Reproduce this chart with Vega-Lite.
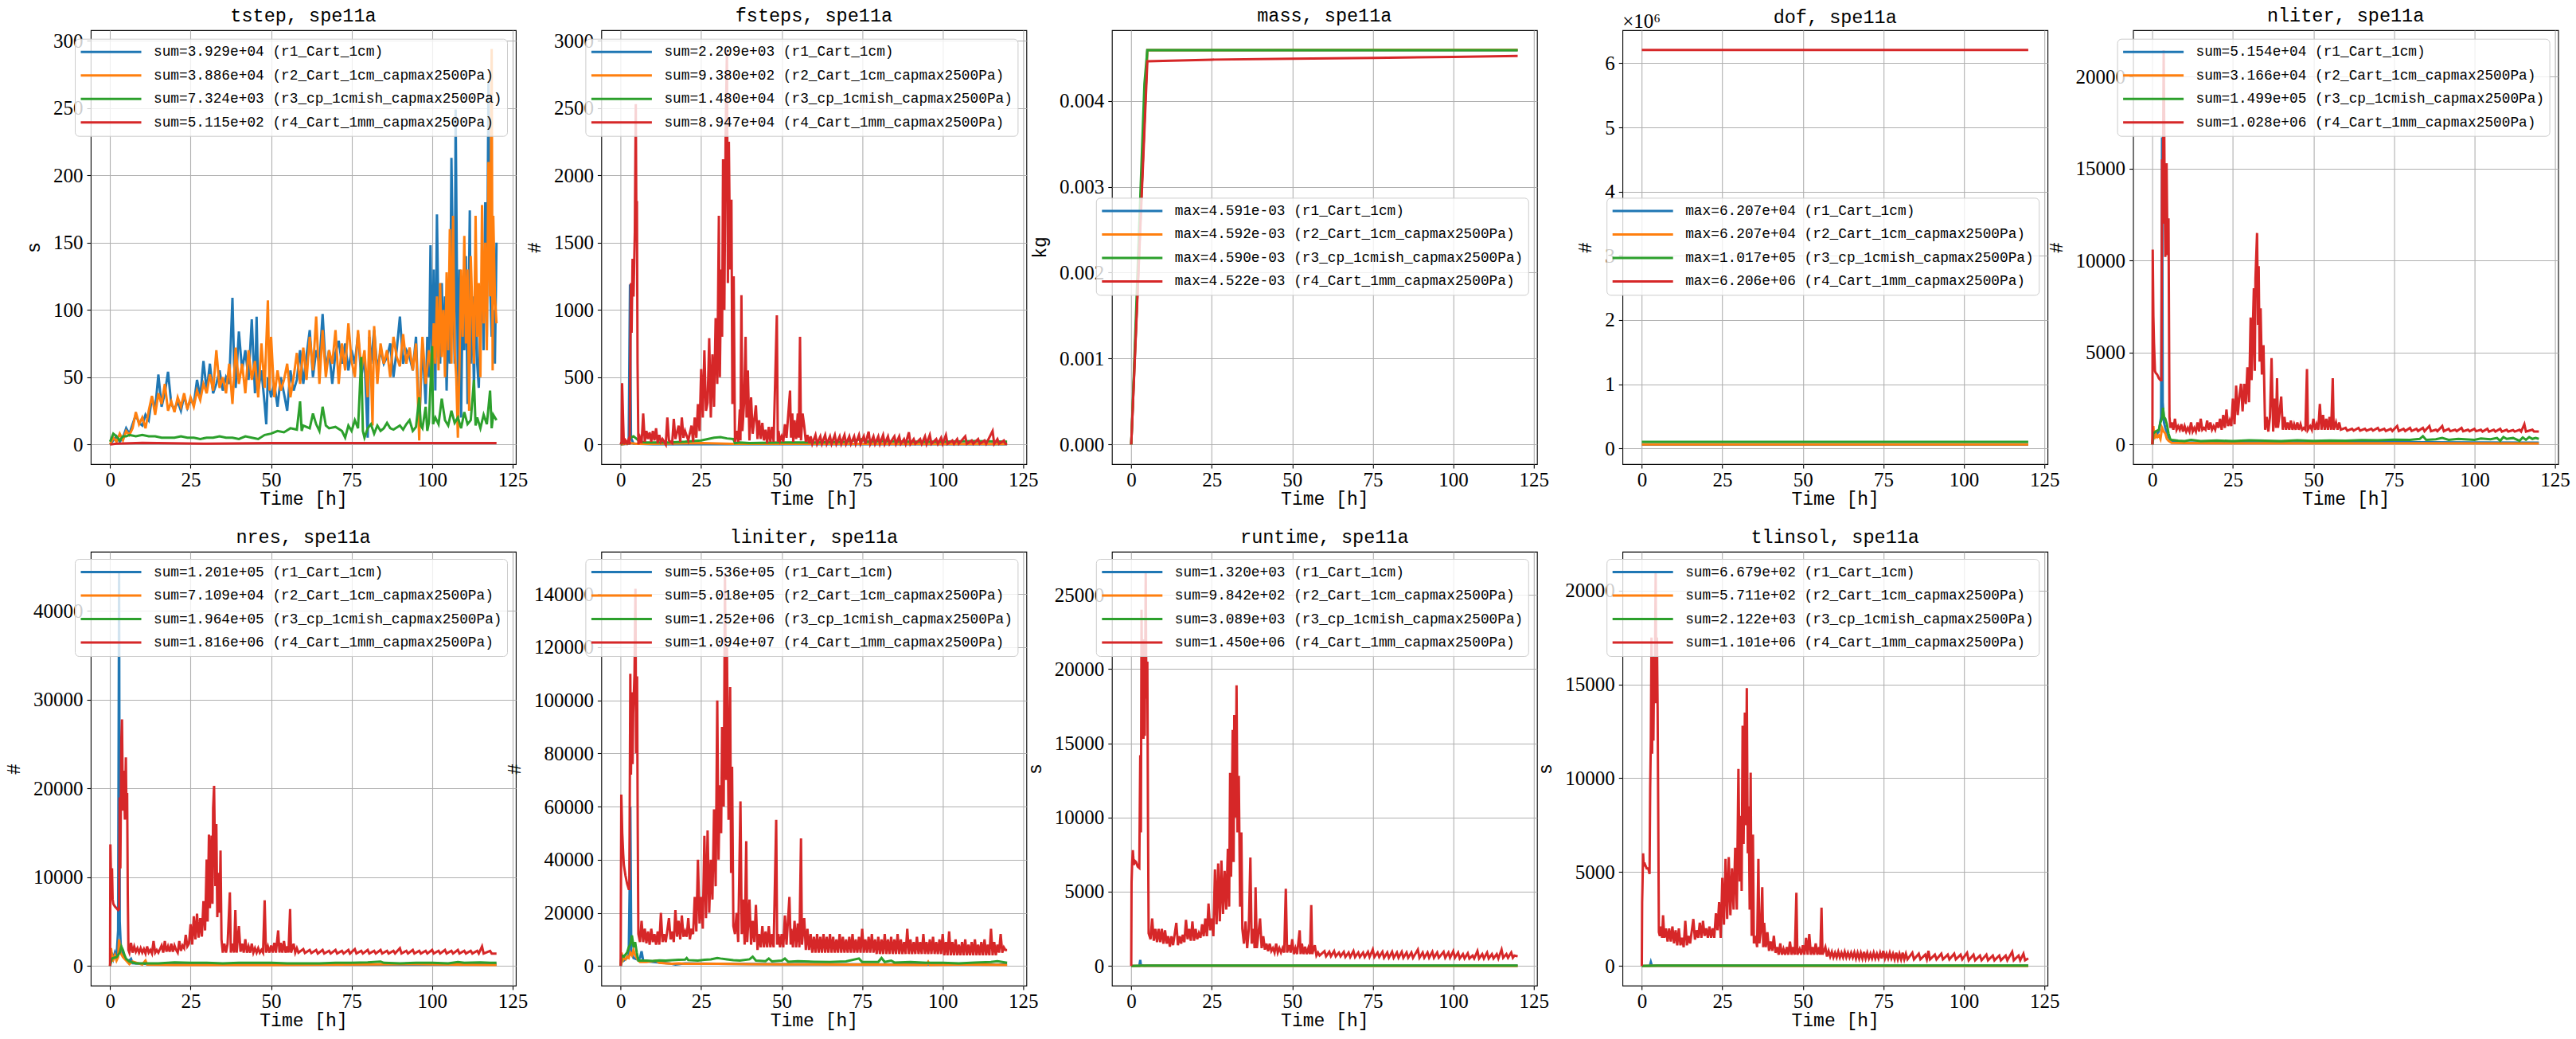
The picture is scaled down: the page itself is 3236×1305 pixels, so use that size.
{
"$schema":"https://vega.github.io/schema/vega-lite/v6.json",
"background":"white",
"padding":{"left":5,"top":6,"right":5,"bottom":5},
"datasets":{
"labels":[
{"k":11,"lab":"sum=3.929e+04 (r1_Cart_1cm)"},{"k":12,"lab":"sum=3.886e+04 (r2_Cart_1cm_capmax2500Pa)"},{"k":13,"lab":"sum=7.324e+03 (r3_cp_1cmish_capmax2500Pa)"},{"k":14,"lab":"sum=5.115e+02 (r4_Cart_1mm_capmax2500Pa)"},
{"k":21,"lab":"sum=2.209e+03 (r1_Cart_1cm)"},{"k":22,"lab":"sum=9.380e+02 (r2_Cart_1cm_capmax2500Pa)"},{"k":23,"lab":"sum=1.480e+04 (r3_cp_1cmish_capmax2500Pa)"},{"k":24,"lab":"sum=8.947e+04 (r4_Cart_1mm_capmax2500Pa)"},
{"k":31,"lab":"max=4.591e-03 (r1_Cart_1cm)"},{"k":32,"lab":"max=4.592e-03 (r2_Cart_1cm_capmax2500Pa)"},{"k":33,"lab":"max=4.590e-03 (r3_cp_1cmish_capmax2500Pa)"},{"k":34,"lab":"max=4.522e-03 (r4_Cart_1mm_capmax2500Pa)"},
{"k":41,"lab":"max=6.207e+04 (r1_Cart_1cm)"},{"k":42,"lab":"max=6.207e+04 (r2_Cart_1cm_capmax2500Pa)"},{"k":43,"lab":"max=1.017e+05 (r3_cp_1cmish_capmax2500Pa)"},{"k":44,"lab":"max=6.206e+06 (r4_Cart_1mm_capmax2500Pa)"},
{"k":51,"lab":"sum=5.154e+04 (r1_Cart_1cm)"},{"k":52,"lab":"sum=3.166e+04 (r2_Cart_1cm_capmax2500Pa)"},{"k":53,"lab":"sum=1.499e+05 (r3_cp_1cmish_capmax2500Pa)"},{"k":54,"lab":"sum=1.028e+06 (r4_Cart_1mm_capmax2500Pa)"},
{"k":61,"lab":"sum=1.201e+05 (r1_Cart_1cm)"},{"k":62,"lab":"sum=7.109e+04 (r2_Cart_1cm_capmax2500Pa)"},{"k":63,"lab":"sum=1.964e+05 (r3_cp_1cmish_capmax2500Pa)"},{"k":64,"lab":"sum=1.816e+06 (r4_Cart_1mm_capmax2500Pa)"},
{"k":71,"lab":"sum=5.536e+05 (r1_Cart_1cm)"},{"k":72,"lab":"sum=5.018e+05 (r2_Cart_1cm_capmax2500Pa)"},{"k":73,"lab":"sum=1.252e+06 (r3_cp_1cmish_capmax2500Pa)"},{"k":74,"lab":"sum=1.094e+07 (r4_Cart_1mm_capmax2500Pa)"},
{"k":81,"lab":"sum=1.320e+03 (r1_Cart_1cm)"},{"k":82,"lab":"sum=9.842e+02 (r2_Cart_1cm_capmax2500Pa)"},{"k":83,"lab":"sum=3.089e+03 (r3_cp_1cmish_capmax2500Pa)"},{"k":84,"lab":"sum=1.450e+06 (r4_Cart_1mm_capmax2500Pa)"},
{"k":91,"lab":"sum=6.679e+02 (r1_Cart_1cm)"},{"k":92,"lab":"sum=5.711e+02 (r2_Cart_1cm_capmax2500Pa)"},{"k":93,"lab":"sum=2.122e+03 (r3_cp_1cmish_capmax2500Pa)"},{"k":94,"lab":"sum=1.101e+06 (r4_Cart_1mm_capmax2500Pa)"}
],
"tstep":[
{"k":11,"t":0,"v":0},{"k":11,"t":1,"v":3},{"k":11,"t":2,"v":6},{"k":11,"t":3,"v":2},{"k":11,"t":4,"v":5},{"k":11,"t":5,"v":12},{"k":11,"t":6,"v":8},{"k":11,"t":7,"v":15},{"k":11,"t":8,"v":22},{"k":11,"t":9,"v":16},{"k":11,"t":10,"v":14},{"k":11,"t":11,"v":22},{"k":11,"t":12,"v":18},{"k":11,"t":13,"v":35},{"k":11,"t":14,"v":26},{"k":11,"t":15,"v":52},{"k":11,"t":16,"v":28},{"k":11,"t":17,"v":38},{"k":11,"t":18,"v":54},{"k":11,"t":19,"v":30},{"k":11,"t":20,"v":26},{"k":11,"t":21,"v":32},{"k":11,"t":22,"v":25},{"k":11,"t":23,"v":36},{"k":11,"t":24,"v":27},{"k":11,"t":25,"v":33},{"k":11,"t":26,"v":30},{"k":11,"t":27,"v":48},{"k":11,"t":28,"v":35},{"k":11,"t":29,"v":62},{"k":11,"t":30,"v":40},{"k":11,"t":31,"v":60},{"k":11,"t":32,"v":38},{"k":11,"t":33,"v":45},{"k":11,"t":34,"v":55},{"k":11,"t":35,"v":40},{"k":11,"t":36,"v":50},{"k":11,"t":37,"v":45},{"k":11,"t":38,"v":109},{"k":11,"t":38.5,"v":60},{"k":11,"t":39,"v":42},{"k":11,"t":40,"v":84},{"k":11,"t":41,"v":55},{"k":11,"t":42,"v":70},{"k":11,"t":43,"v":48},{"k":11,"t":44,"v":93},{"k":11,"t":45,"v":38},{"k":11,"t":45.5,"v":95},{"k":11,"t":46,"v":40},{"k":11,"t":47,"v":55},{"k":11,"t":48,"v":30},{"k":11,"t":48.5,"v":15},{"k":11,"t":49,"v":50},{"k":11,"t":50,"v":35},{"k":11,"t":51,"v":45},{"k":11,"t":52,"v":28},{"k":11,"t":53,"v":50},{"k":11,"t":54,"v":38},{"k":11,"t":55,"v":25},{"k":11,"t":56,"v":55},{"k":11,"t":57,"v":40},{"k":11,"t":58,"v":48},{"k":11,"t":59,"v":70},{"k":11,"t":60,"v":45},{"k":11,"t":61,"v":66},{"k":11,"t":62,"v":85},{"k":11,"t":63,"v":50},{"k":11,"t":64,"v":70},{"k":11,"t":65,"v":60},{"k":11,"t":66,"v":97},{"k":11,"t":67,"v":55},{"k":11,"t":68,"v":70},{"k":11,"t":69,"v":45},{"k":11,"t":70,"v":68},{"k":11,"t":71,"v":77},{"k":11,"t":72,"v":60},{"k":11,"t":73,"v":75},{"k":11,"t":74,"v":55},{"k":11,"t":75,"v":70},{"k":11,"t":76,"v":60},{"k":11,"t":77,"v":82},{"k":11,"t":78,"v":50},{"k":11,"t":79,"v":65},{"k":11,"t":80,"v":5},{"k":11,"t":80.5,"v":80},{"k":11,"t":81,"v":60},{"k":11,"t":82,"v":85},{"k":11,"t":83,"v":55},{"k":11,"t":84,"v":70},{"k":11,"t":85,"v":60},{"k":11,"t":86,"v":65},{"k":11,"t":87,"v":75},{"k":11,"t":88,"v":50},{"k":11,"t":89,"v":70},{"k":11,"t":90,"v":95},{"k":11,"t":91,"v":60},{"k":11,"t":92,"v":70},{"k":11,"t":93,"v":65},{"k":11,"t":94,"v":55},{"k":11,"t":95,"v":80},{"k":11,"t":96,"v":15},{"k":11,"t":97,"v":75},{"k":11,"t":98,"v":30},{"k":11,"t":98.5,"v":80},{"k":11,"t":99,"v":50},{"k":11,"t":99.5,"v":148},{"k":11,"t":100,"v":60},{"k":11,"t":100.5,"v":130},{"k":11,"t":101,"v":40},{"k":11,"t":101.5,"v":171},{"k":11,"t":102,"v":90},{"k":11,"t":102.5,"v":60},{"k":11,"t":103,"v":120},{"k":11,"t":103.5,"v":70},{"k":11,"t":104,"v":110},{"k":11,"t":104.5,"v":40},{"k":11,"t":105,"v":90},{"k":11,"t":105.5,"v":60},{"k":11,"t":106,"v":213},{"k":11,"t":106.5,"v":130},{"k":11,"t":107,"v":60},{"k":11,"t":107.3,"v":249},{"k":11,"t":107.8,"v":100},{"k":11,"t":108,"v":40},{"k":11,"t":108.5,"v":130},{"k":11,"t":109,"v":20},{"k":11,"t":109.5,"v":110},{"k":11,"t":110,"v":70},{"k":11,"t":110.5,"v":140},{"k":11,"t":111,"v":30},{"k":11,"t":111.7,"v":174},{"k":11,"t":112,"v":60},{"k":11,"t":112.5,"v":110},{"k":11,"t":113,"v":40},{"k":11,"t":113.5,"v":130},{"k":11,"t":114,"v":60},{"k":11,"t":114.5,"v":42},{"k":11,"t":115,"v":90},{"k":11,"t":115.5,"v":120},{"k":11,"t":116,"v":70},{"k":11,"t":116.5,"v":180},{"k":11,"t":117,"v":80},{"k":11,"t":117.5,"v":270},{"k":11,"t":118,"v":120},{"k":11,"t":118.5,"v":80},{"k":11,"t":119,"v":100},{"k":11,"t":119.5,"v":60},{"k":11,"t":120,"v":150},
{"k":12,"t":0,"v":0},{"k":12,"t":1,"v":5},{"k":12,"t":2,"v":2},{"k":12,"t":3,"v":8},{"k":12,"t":4,"v":3},{"k":12,"t":5,"v":10},{"k":12,"t":6,"v":7},{"k":12,"t":7,"v":12},{"k":12,"t":8,"v":24},{"k":12,"t":9,"v":15},{"k":12,"t":10,"v":20},{"k":12,"t":11,"v":12},{"k":12,"t":12,"v":25},{"k":12,"t":13,"v":36},{"k":12,"t":14,"v":22},{"k":12,"t":15,"v":38},{"k":12,"t":16,"v":30},{"k":12,"t":17,"v":45},{"k":12,"t":18,"v":25},{"k":12,"t":19,"v":32},{"k":12,"t":20,"v":24},{"k":12,"t":21,"v":35},{"k":12,"t":22,"v":28},{"k":12,"t":23,"v":38},{"k":12,"t":24,"v":26},{"k":12,"t":25,"v":35},{"k":12,"t":26,"v":28},{"k":12,"t":27,"v":40},{"k":12,"t":28,"v":33},{"k":12,"t":29,"v":45},{"k":12,"t":30,"v":38},{"k":12,"t":31,"v":52},{"k":12,"t":32,"v":40},{"k":12,"t":33,"v":70},{"k":12,"t":34,"v":42},{"k":12,"t":35,"v":50},{"k":12,"t":36,"v":38},{"k":12,"t":37,"v":60},{"k":12,"t":38,"v":30},{"k":12,"t":39,"v":72},{"k":12,"t":40,"v":45},{"k":12,"t":41,"v":60},{"k":12,"t":42,"v":38},{"k":12,"t":43,"v":70},{"k":12,"t":44,"v":48},{"k":12,"t":45,"v":62},{"k":12,"t":46,"v":35},{"k":12,"t":47,"v":75},{"k":12,"t":48,"v":42},{"k":12,"t":49,"v":107},{"k":12,"t":49.5,"v":40},{"k":12,"t":50,"v":80},{"k":12,"t":51,"v":35},{"k":12,"t":52,"v":55},{"k":12,"t":53,"v":40},{"k":12,"t":54,"v":48},{"k":12,"t":55,"v":60},{"k":12,"t":56,"v":35},{"k":12,"t":57,"v":50},{"k":12,"t":58,"v":68},{"k":12,"t":59,"v":45},{"k":12,"t":60,"v":72},{"k":12,"t":61,"v":48},{"k":12,"t":62,"v":80},{"k":12,"t":63,"v":55},{"k":12,"t":64,"v":95},{"k":12,"t":65,"v":45},{"k":12,"t":66,"v":85},{"k":12,"t":67,"v":50},{"k":12,"t":68,"v":70},{"k":12,"t":69,"v":60},{"k":12,"t":70,"v":85},{"k":12,"t":71,"v":45},{"k":12,"t":72,"v":75},{"k":12,"t":73,"v":55},{"k":12,"t":74,"v":90},{"k":12,"t":75,"v":62},{"k":12,"t":76,"v":50},{"k":12,"t":77,"v":85},{"k":12,"t":78,"v":55},{"k":12,"t":79,"v":70},{"k":12,"t":80,"v":35},{"k":12,"t":80.5,"v":85},{"k":12,"t":81,"v":55},{"k":12,"t":81.5,"v":14},{"k":12,"t":82,"v":88},{"k":12,"t":83,"v":45},{"k":12,"t":84,"v":75},{"k":12,"t":85,"v":60},{"k":12,"t":86,"v":70},{"k":12,"t":87,"v":50},{"k":12,"t":88,"v":80},{"k":12,"t":89,"v":65},{"k":12,"t":90,"v":58},{"k":12,"t":91,"v":82},{"k":12,"t":92,"v":60},{"k":12,"t":93,"v":72},{"k":12,"t":94,"v":55},{"k":12,"t":95,"v":75},{"k":12,"t":96,"v":3},{"k":12,"t":96.5,"v":55},{"k":12,"t":97,"v":80},{"k":12,"t":98,"v":45},{"k":12,"t":99,"v":70},{"k":12,"t":100,"v":50},{"k":12,"t":100.5,"v":90},{"k":12,"t":101,"v":60},{"k":12,"t":101.5,"v":110},{"k":12,"t":102,"v":55},{"k":12,"t":102.5,"v":120},{"k":12,"t":103,"v":65},{"k":12,"t":103.5,"v":100},{"k":12,"t":104,"v":50},{"k":12,"t":104.5,"v":128},{"k":12,"t":105,"v":70},{"k":12,"t":105.5,"v":160},{"k":12,"t":106,"v":60},{"k":12,"t":106.5,"v":170},{"k":12,"t":107,"v":70},{"k":12,"t":107.5,"v":50},{"k":12,"t":108,"v":5},{"k":12,"t":108.5,"v":60},{"k":12,"t":109,"v":130},{"k":12,"t":109.5,"v":80},{"k":12,"t":110,"v":155},{"k":12,"t":110.5,"v":75},{"k":12,"t":111,"v":130},{"k":12,"t":111.5,"v":25},{"k":12,"t":112,"v":140},{"k":12,"t":112.5,"v":100},{"k":12,"t":113,"v":60},{"k":12,"t":113.5,"v":170},{"k":12,"t":114,"v":80},{"k":12,"t":114.5,"v":120},{"k":12,"t":115,"v":50},{"k":12,"t":115.5,"v":178},{"k":12,"t":116,"v":90},{"k":12,"t":116.5,"v":150},{"k":12,"t":117,"v":70},{"k":12,"t":117.5,"v":210},{"k":12,"t":118,"v":110},{"k":12,"t":118.5,"v":294},{"k":12,"t":118.8,"v":55},{"k":12,"t":119,"v":170},{"k":12,"t":119.5,"v":110},{"k":12,"t":120,"v":90},
{"k":13,"t":0,"v":2},{"k":13,"t":1,"v":8},{"k":13,"t":2,"v":6},{"k":13,"t":3,"v":3},{"k":13,"t":4,"v":6},{"k":13,"t":5,"v":6},{"k":13,"t":6,"v":7},{"k":13,"t":8,"v":6},{"k":13,"t":10,"v":7},{"k":13,"t":12,"v":6},{"k":13,"t":14,"v":6},{"k":13,"t":16,"v":5},{"k":13,"t":18,"v":5},{"k":13,"t":20,"v":5},{"k":13,"t":22,"v":6},{"k":13,"t":24,"v":5},{"k":13,"t":26,"v":5},{"k":13,"t":28,"v":4},{"k":13,"t":30,"v":5},{"k":13,"t":32,"v":5},{"k":13,"t":34,"v":6},{"k":13,"t":36,"v":5},{"k":13,"t":38,"v":5},{"k":13,"t":40,"v":4},{"k":13,"t":42,"v":6},{"k":13,"t":44,"v":5},{"k":13,"t":46,"v":4},{"k":13,"t":48,"v":7},{"k":13,"t":50,"v":8},{"k":13,"t":52,"v":10},{"k":13,"t":54,"v":9},{"k":13,"t":56,"v":12},{"k":13,"t":58,"v":11},{"k":13,"t":59,"v":32},{"k":13,"t":59.5,"v":10},{"k":13,"t":60,"v":14},{"k":13,"t":62,"v":12},{"k":13,"t":63,"v":23},{"k":13,"t":64,"v":15},{"k":13,"t":65,"v":10},{"k":13,"t":66,"v":28},{"k":13,"t":67,"v":14},{"k":13,"t":68,"v":12},{"k":13,"t":70,"v":13},{"k":13,"t":72,"v":10},{"k":13,"t":73,"v":5},{"k":13,"t":74,"v":14},{"k":13,"t":75,"v":10},{"k":13,"t":76,"v":18},{"k":13,"t":77,"v":12},{"k":13,"t":78,"v":65},{"k":13,"t":78.5,"v":10},{"k":13,"t":79,"v":5},{"k":13,"t":80,"v":12},{"k":13,"t":81,"v":15},{"k":13,"t":82,"v":8},{"k":13,"t":83,"v":14},{"k":13,"t":84,"v":10},{"k":13,"t":85,"v":12},{"k":13,"t":86,"v":16},{"k":13,"t":87,"v":12},{"k":13,"t":88,"v":11},{"k":13,"t":90,"v":14},{"k":13,"t":91,"v":11},{"k":13,"t":92,"v":15},{"k":13,"t":93,"v":18},{"k":13,"t":94,"v":10},{"k":13,"t":95,"v":13},{"k":13,"t":96,"v":35},{"k":13,"t":96.5,"v":14},{"k":13,"t":97,"v":12},{"k":13,"t":98,"v":28},{"k":13,"t":98.5,"v":10},{"k":13,"t":99,"v":16},{"k":13,"t":100,"v":73},{"k":13,"t":100.3,"v":15},{"k":13,"t":101,"v":20},{"k":13,"t":102,"v":15},{"k":13,"t":103,"v":34},{"k":13,"t":104,"v":18},{"k":13,"t":105,"v":14},{"k":13,"t":106,"v":25},{"k":13,"t":107,"v":16},{"k":13,"t":108,"v":20},{"k":13,"t":109,"v":12},{"k":13,"t":110,"v":24},{"k":13,"t":111,"v":15},{"k":13,"t":112,"v":18},{"k":13,"t":113,"v":48},{"k":13,"t":113.5,"v":14},{"k":13,"t":114,"v":20},{"k":13,"t":115,"v":12},{"k":13,"t":116,"v":22},{"k":13,"t":117,"v":15},{"k":13,"t":118,"v":40},{"k":13,"t":118.5,"v":12},{"k":13,"t":119,"v":22},{"k":13,"t":120,"v":18},
{"k":14,"t":0,"v":0},{"k":14,"t":2,"v":0.5},{"k":14,"t":10,"v":1.2},{"k":14,"t":30,"v":0.5},{"k":14,"t":50,"v":1},{"k":14,"t":120,"v":1}
],
"fsteps":[
{"k":21,"t":0,"v":0},{"k":21,"t":2.5,"v":5},{"k":21,"t":2.9,"v":1190},{"k":21,"t":3.2,"v":50},{"k":21,"t":4,"v":5},{"k":21,"t":10,"v":2},{"k":21,"t":120,"v":1},
{"k":22,"t":0,"v":0},{"k":22,"t":3,"v":10},{"k":22,"t":5,"v":5},{"k":22,"t":10,"v":5},{"k":22,"t":25,"v":10},{"k":22,"t":35,"v":5},{"k":22,"t":120,"v":3},
{"k":23,"t":0,"v":0},{"k":23,"t":1,"v":20},{"k":23,"t":2,"v":10},{"k":23,"t":3,"v":50},{"k":23,"t":4,"v":60},{"k":23,"t":5,"v":40},{"k":23,"t":6,"v":20},{"k":23,"t":8,"v":15},{"k":23,"t":10,"v":15},{"k":23,"t":15,"v":15},{"k":23,"t":20,"v":20},{"k":23,"t":25,"v":30},{"k":23,"t":27,"v":40},{"k":23,"t":29,"v":50},{"k":23,"t":31,"v":55},{"k":23,"t":33,"v":45},{"k":23,"t":35,"v":40},{"k":23,"t":35.5,"v":10},{"k":23,"t":37,"v":15},{"k":23,"t":40,"v":10},{"k":23,"t":50,"v":15},{"k":23,"t":60,"v":15},{"k":23,"t":70,"v":20},{"k":23,"t":75,"v":40},{"k":23,"t":76,"v":20},{"k":23,"t":80,"v":25},{"k":23,"t":90,"v":20},{"k":23,"t":100,"v":20},{"k":23,"t":110,"v":25},{"k":23,"t":120,"v":20},
{"k":24,"t":0,"v":0},{"k":24,"t":0.3,"v":20},{"k":24,"t":0.45,"v":456},{"k":24,"t":0.8,"v":150},{"k":24,"t":1,"v":0},{"k":24,"t":1.5,"v":30},{"k":24,"t":2,"v":10},{"k":24,"t":2.5,"v":40},{"k":24,"t":2.8,"v":0},{"k":24,"t":3.2,"v":1200},{"k":24,"t":3.4,"v":830},{"k":24,"t":3.7,"v":1380},{"k":24,"t":4,"v":1100},{"k":24,"t":4.4,"v":1580},{"k":24,"t":4.7,"v":2530},{"k":24,"t":4.85,"v":1800},{"k":24,"t":5.05,"v":1800},{"k":24,"t":5.25,"v":600},{"k":24,"t":5.5,"v":0},{"k":24,"t":6,"v":50},{"k":24,"t":6.5,"v":10},{"k":24,"t":7,"v":230},{"k":24,"t":7.5,"v":20},{"k":24,"t":8,"v":100},{"k":24,"t":8.5,"v":40},{"k":24,"t":9,"v":90},{"k":24,"t":9.5,"v":20},{"k":24,"t":10,"v":100},{"k":24,"t":10.5,"v":30},{"k":24,"t":11,"v":120},{"k":24,"t":11.5,"v":10},{"k":24,"t":12,"v":70},{"k":24,"t":12.5,"v":20},{"k":24,"t":13,"v":40},{"k":24,"t":14,"v":0},{"k":24,"t":14.5,"v":200},{"k":24,"t":15,"v":30},{"k":24,"t":16,"v":10},{"k":24,"t":16.5,"v":190},{"k":24,"t":17,"v":40},{"k":24,"t":18,"v":140},{"k":24,"t":18.5,"v":20},{"k":24,"t":19,"v":200},{"k":24,"t":19.5,"v":50},{"k":24,"t":20,"v":100},{"k":24,"t":21,"v":30},{"k":24,"t":22,"v":140},{"k":24,"t":22.5,"v":20},{"k":24,"t":23,"v":200},{"k":24,"t":23.5,"v":50},{"k":24,"t":24,"v":300},{"k":24,"t":24.5,"v":100},{"k":24,"t":25,"v":560},{"k":24,"t":25.5,"v":200},{"k":24,"t":26,"v":700},{"k":24,"t":26.5,"v":250},{"k":24,"t":27,"v":310},{"k":24,"t":27.5,"v":790},{"k":24,"t":28,"v":200},{"k":24,"t":28.5,"v":670},{"k":24,"t":29,"v":280},{"k":24,"t":29.5,"v":940},{"k":24,"t":30,"v":450},{"k":24,"t":30.5,"v":1700},{"k":24,"t":30.8,"v":500},{"k":24,"t":31.2,"v":1300},{"k":24,"t":31.5,"v":800},{"k":24,"t":31.8,"v":2120},{"k":24,"t":32.2,"v":1000},{"k":24,"t":32.6,"v":2300},{"k":24,"t":33,"v":2930},{"k":24,"t":33.3,"v":1200},{"k":24,"t":33.6,"v":2250},{"k":24,"t":34,"v":1300},{"k":24,"t":34.4,"v":1820},{"k":24,"t":34.7,"v":300},{"k":24,"t":35.1,"v":1250},{"k":24,"t":35.5,"v":20},{"k":24,"t":36,"v":100},{"k":24,"t":36.5,"v":20},{"k":24,"t":37,"v":260},{"k":24,"t":37.2,"v":30},{"k":24,"t":37.5,"v":1110},{"k":24,"t":37.8,"v":100},{"k":24,"t":38.3,"v":300},{"k":24,"t":38.8,"v":800},{"k":24,"t":39.1,"v":200},{"k":24,"t":39.5,"v":550},{"k":24,"t":40,"v":30},{"k":24,"t":40.5,"v":350},{"k":24,"t":41,"v":80},{"k":24,"t":42,"v":290},{"k":24,"t":42.5,"v":40},{"k":24,"t":43,"v":180},{"k":24,"t":43.5,"v":40},{"k":24,"t":44,"v":160},{"k":24,"t":44.5,"v":30},{"k":24,"t":45,"v":110},{"k":24,"t":45.5,"v":10},{"k":24,"t":46,"v":130},{"k":24,"t":46.5,"v":20},{"k":24,"t":47,"v":130},{"k":24,"t":47.5,"v":20},{"k":24,"t":48.5,"v":960},{"k":24,"t":48.8,"v":20},{"k":24,"t":49,"v":100},{"k":24,"t":49.5,"v":30},{"k":24,"t":50,"v":60},{"k":24,"t":50.5,"v":20},{"k":24,"t":51,"v":150},{"k":24,"t":51.5,"v":50},{"k":24,"t":52.6,"v":400},{"k":24,"t":52.9,"v":50},{"k":24,"t":53.3,"v":230},{"k":24,"t":53.6,"v":20},{"k":24,"t":54,"v":180},{"k":24,"t":54.5,"v":40},{"k":24,"t":55,"v":230},{"k":24,"t":55.3,"v":50},{"k":24,"t":55.7,"v":800},{"k":24,"t":56,"v":30},{"k":24,"t":56.5,"v":230},{"k":24,"t":57,"v":140},{"k":24,"t":57.5,"v":20},{"k":24,"t":58,"v":70},{"k":24,"t":58.5,"v":10},{"k":24,"t":59,"v":60},{"k":24,"t":59.5,"v":5},{"k":24,"t":60.5,"v":70},{"k":24,"t":61,"v":5},{"k":24,"t":62,"v":60},{"k":24,"t":62.5,"v":5},{"k":24,"t":63.5,"v":70},{"k":24,"t":64,"v":5},{"k":24,"t":65,"v":60},{"k":24,"t":65.5,"v":5},{"k":24,"t":66.5,"v":70},{"k":24,"t":67,"v":5},{"k":24,"t":68,"v":60},{"k":24,"t":68.5,"v":5},{"k":24,"t":69.5,"v":70},{"k":24,"t":70,"v":5},{"k":24,"t":71,"v":60},{"k":24,"t":71.5,"v":5},{"k":24,"t":72.5,"v":60},{"k":24,"t":73,"v":5},{"k":24,"t":74,"v":70},{"k":24,"t":74.5,"v":5},{"k":24,"t":75.5,"v":60},{"k":24,"t":76,"v":5},{"k":24,"t":77,"v":95},{"k":24,"t":77.5,"v":5},{"k":24,"t":78.5,"v":60},{"k":24,"t":79,"v":5},{"k":24,"t":80,"v":60},{"k":24,"t":80.5,"v":5},{"k":24,"t":81.5,"v":70},{"k":24,"t":82,"v":5},{"k":24,"t":83,"v":60},{"k":24,"t":83.5,"v":5},{"k":24,"t":85,"v":60},{"k":24,"t":85.5,"v":5},{"k":24,"t":86.5,"v":60},{"k":24,"t":87,"v":5},{"k":24,"t":88,"v":40},{"k":24,"t":88.5,"v":5},{"k":24,"t":89.5,"v":90},{"k":24,"t":90,"v":5},{"k":24,"t":91,"v":40},{"k":24,"t":91.5,"v":5},{"k":24,"t":93,"v":40},{"k":24,"t":93.5,"v":5},{"k":24,"t":94.5,"v":60},{"k":24,"t":95,"v":5},{"k":24,"t":96,"v":70},{"k":24,"t":96.5,"v":5},{"k":24,"t":98,"v":40},{"k":24,"t":98.5,"v":5},{"k":24,"t":99.5,"v":50},{"k":24,"t":100,"v":5},{"k":24,"t":101,"v":70},{"k":24,"t":101.5,"v":5},{"k":24,"t":103,"v":30},{"k":24,"t":103.5,"v":5},{"k":24,"t":104.5,"v":40},{"k":24,"t":105,"v":5},{"k":24,"t":107,"v":60},{"k":24,"t":107.5,"v":5},{"k":24,"t":109,"v":30},{"k":24,"t":109.5,"v":5},{"k":24,"t":111,"v":40},{"k":24,"t":111.5,"v":5},{"k":24,"t":113,"v":30},{"k":24,"t":113.5,"v":5},{"k":24,"t":115.5,"v":100},{"k":24,"t":116,"v":5},{"k":24,"t":117,"v":40},{"k":24,"t":117.5,"v":5},{"k":24,"t":119,"v":30},{"k":24,"t":119.5,"v":5},{"k":24,"t":120,"v":5}
],
"mass":[
{"k":31,"t":0,"v":0},{"k":31,"t":5,"v":0.00459},{"k":31,"t":120,"v":0.004591},
{"k":32,"t":0,"v":0},{"k":32,"t":5,"v":0.00459},{"k":32,"t":120,"v":0.004592},
{"k":33,"t":0,"v":0},{"k":33,"t":4.1,"v":0.0042},{"k":33,"t":5,"v":0.00459},{"k":33,"t":120,"v":0.00459},
{"k":34,"t":0,"v":0},{"k":34,"t":5,"v":0.00446},{"k":34,"t":25,"v":0.00448},{"k":34,"t":50,"v":0.00449},{"k":34,"t":75,"v":0.0045},{"k":34,"t":100,"v":0.004512},{"k":34,"t":120,"v":0.004522}
],
"dof":[
{"k":41,"t":0,"v":62070},{"k":41,"t":120,"v":62070},
{"k":42,"t":0,"v":62070},{"k":42,"t":120,"v":62070},
{"k":43,"t":0,"v":101700},{"k":43,"t":120,"v":101700},
{"k":44,"t":0,"v":6206000},{"k":44,"t":120,"v":6206000}
],
"nliter":[
{"k":51,"t":0,"v":0},{"k":51,"t":0.5,"v":600},{"k":51,"t":1,"v":500},{"k":51,"t":2,"v":700},{"k":51,"t":2.7,"v":1500},{"k":51,"t":3,"v":16700},{"k":51,"t":3.2,"v":2300},{"k":51,"t":3.6,"v":1200},{"k":51,"t":4,"v":900},{"k":51,"t":5,"v":400},{"k":51,"t":6,"v":150},{"k":51,"t":10,"v":100},{"k":51,"t":20,"v":120},{"k":51,"t":40,"v":110},{"k":51,"t":60,"v":120},{"k":51,"t":80,"v":120},{"k":51,"t":100,"v":110},{"k":51,"t":120,"v":100},
{"k":52,"t":0,"v":0},{"k":52,"t":0.3,"v":1000},{"k":52,"t":0.6,"v":300},{"k":52,"t":1,"v":600},{"k":52,"t":1.5,"v":400},{"k":52,"t":2,"v":500},{"k":52,"t":2.5,"v":300},{"k":52,"t":3,"v":900},{"k":52,"t":3.5,"v":700},{"k":52,"t":4,"v":600},{"k":52,"t":4.5,"v":300},{"k":52,"t":5,"v":200},{"k":52,"t":6,"v":80},{"k":52,"t":10,"v":70},{"k":52,"t":20,"v":60},{"k":52,"t":50,"v":60},{"k":52,"t":80,"v":60},{"k":52,"t":120,"v":50},
{"k":53,"t":0,"v":0},{"k":53,"t":0.3,"v":600},{"k":53,"t":1,"v":700},{"k":53,"t":2,"v":800},{"k":53,"t":2.5,"v":1200},{"k":53,"t":3,"v":1400},{"k":53,"t":3.3,"v":2000},{"k":53,"t":3.6,"v":1500},{"k":53,"t":4,"v":1400},{"k":53,"t":4.5,"v":1100},{"k":53,"t":5,"v":600},{"k":53,"t":5.5,"v":300},{"k":53,"t":6,"v":250},{"k":53,"t":8,"v":200},{"k":53,"t":10,"v":180},{"k":53,"t":12,"v":250},{"k":53,"t":15,"v":180},{"k":53,"t":20,"v":220},{"k":53,"t":25,"v":180},{"k":53,"t":30,"v":230},{"k":53,"t":35,"v":200},{"k":53,"t":40,"v":180},{"k":53,"t":45,"v":230},{"k":53,"t":50,"v":190},{"k":53,"t":55,"v":210},{"k":53,"t":60,"v":200},{"k":53,"t":65,"v":240},{"k":53,"t":70,"v":230},{"k":53,"t":75,"v":260},{"k":53,"t":80,"v":250},{"k":53,"t":83,"v":300},{"k":53,"t":84,"v":450},{"k":53,"t":85,"v":250},{"k":53,"t":88,"v":280},{"k":53,"t":90,"v":350},{"k":53,"t":92,"v":250},{"k":53,"t":95,"v":300},{"k":53,"t":100,"v":250},{"k":53,"t":102,"v":320},{"k":53,"t":105,"v":280},{"k":53,"t":107,"v":350},{"k":53,"t":108,"v":200},{"k":53,"t":109,"v":400},{"k":53,"t":110,"v":300},{"k":53,"t":112,"v":350},{"k":53,"t":114,"v":200},{"k":53,"t":115,"v":380},{"k":53,"t":116,"v":250},{"k":53,"t":117,"v":400},{"k":53,"t":118,"v":300},{"k":53,"t":119,"v":350},{"k":53,"t":120,"v":300},
{"k":54,"t":0,"v":0},{"k":54,"t":0.1,"v":10600},{"k":54,"t":0.3,"v":7000},{"k":54,"t":0.5,"v":5500},{"k":54,"t":0.8,"v":4000},{"k":54,"t":1,"v":3900},{"k":54,"t":1.5,"v":3800},{"k":54,"t":2,"v":3600},{"k":54,"t":2.5,"v":3500},{"k":54,"t":2.8,"v":3500},{"k":54,"t":3,"v":15500},{"k":54,"t":3.2,"v":12000},{"k":54,"t":3.5,"v":21450},{"k":54,"t":3.8,"v":14000},{"k":54,"t":4,"v":10200},{"k":54,"t":4.4,"v":15300},{"k":54,"t":4.7,"v":10300},{"k":54,"t":5,"v":12300},{"k":54,"t":5.3,"v":1500},{"k":54,"t":5.6,"v":900},{"k":54,"t":6,"v":1200},{"k":54,"t":6.5,"v":800},{"k":54,"t":7,"v":1400},{"k":54,"t":7.5,"v":800},{"k":54,"t":8,"v":1000},{"k":54,"t":8.5,"v":800},{"k":54,"t":9,"v":1100},{"k":54,"t":9.5,"v":700},{"k":54,"t":10,"v":1000},{"k":54,"t":10.5,"v":700},{"k":54,"t":11,"v":900},{"k":54,"t":11.5,"v":700},{"k":54,"t":12,"v":1200},{"k":54,"t":12.5,"v":700},{"k":54,"t":13,"v":900},{"k":54,"t":13.5,"v":700},{"k":54,"t":14,"v":1200},{"k":54,"t":14.5,"v":700},{"k":54,"t":15,"v":1400},{"k":54,"t":15.5,"v":800},{"k":54,"t":16,"v":900},{"k":54,"t":16.5,"v":800},{"k":54,"t":17,"v":1300},{"k":54,"t":17.5,"v":800},{"k":54,"t":18,"v":1200},{"k":54,"t":18.5,"v":800},{"k":54,"t":19,"v":1000},{"k":54,"t":19.5,"v":800},{"k":54,"t":20,"v":1200},{"k":54,"t":20.5,"v":900},{"k":54,"t":21,"v":1400},{"k":54,"t":21.5,"v":800},{"k":54,"t":22,"v":1600},{"k":54,"t":22.5,"v":900},{"k":54,"t":23,"v":1900},{"k":54,"t":23.5,"v":1000},{"k":54,"t":24,"v":1300},{"k":54,"t":24.5,"v":1000},{"k":54,"t":25,"v":2500},{"k":54,"t":25.5,"v":1100},{"k":54,"t":26,"v":3200},{"k":54,"t":26.5,"v":1600},{"k":54,"t":27,"v":2600},{"k":54,"t":27.5,"v":3300},{"k":54,"t":28,"v":1800},{"k":54,"t":28.5,"v":3300},{"k":54,"t":29,"v":2200},{"k":54,"t":29.5,"v":4200},{"k":54,"t":30,"v":2300},{"k":54,"t":30.5,"v":6900},{"k":54,"t":30.8,"v":3500},{"k":54,"t":31,"v":5000},{"k":54,"t":31.5,"v":8500},{"k":54,"t":31.8,"v":4000},{"k":54,"t":32,"v":9000},{"k":54,"t":32.5,"v":11500},{"k":54,"t":32.8,"v":6500},{"k":54,"t":33,"v":9700},{"k":54,"t":33.3,"v":4500},{"k":54,"t":33.6,"v":7400},{"k":54,"t":34,"v":3800},{"k":54,"t":34.5,"v":5400},{"k":54,"t":35,"v":800},{"k":54,"t":35.5,"v":1500},{"k":54,"t":36,"v":700},{"k":54,"t":36.5,"v":1500},{"k":54,"t":37,"v":4700},{"k":54,"t":37.5,"v":700},{"k":54,"t":38,"v":2500},{"k":54,"t":38.4,"v":900},{"k":54,"t":38.7,"v":3600},{"k":54,"t":39,"v":900},{"k":54,"t":40,"v":2600},{"k":54,"t":40.5,"v":800},{"k":54,"t":41,"v":1500},{"k":54,"t":41.5,"v":800},{"k":54,"t":42,"v":1200},{"k":54,"t":42.5,"v":800},{"k":54,"t":43,"v":1300},{"k":54,"t":43.5,"v":800},{"k":54,"t":44,"v":1100},{"k":54,"t":44.5,"v":800},{"k":54,"t":45,"v":1200},{"k":54,"t":45.5,"v":800},{"k":54,"t":46,"v":1100},{"k":54,"t":46.5,"v":800},{"k":54,"t":47,"v":900},{"k":54,"t":47.5,"v":800},{"k":54,"t":48,"v":4100},{"k":54,"t":48.3,"v":800},{"k":54,"t":49,"v":1000},{"k":54,"t":49.5,"v":800},{"k":54,"t":50,"v":1400},{"k":54,"t":50.5,"v":800},{"k":54,"t":51,"v":1100},{"k":54,"t":51.5,"v":800},{"k":54,"t":52,"v":2200},{"k":54,"t":52.5,"v":800},{"k":54,"t":53,"v":1600},{"k":54,"t":53.5,"v":800},{"k":54,"t":54,"v":1400},{"k":54,"t":54.5,"v":800},{"k":54,"t":55,"v":1500},{"k":54,"t":55.5,"v":800},{"k":54,"t":56,"v":3600},{"k":54,"t":56.3,"v":800},{"k":54,"t":57,"v":1200},{"k":54,"t":57.5,"v":800},{"k":54,"t":58,"v":1200},{"k":54,"t":58.5,"v":800},{"k":54,"t":60,"v":900},{"k":54,"t":60.5,"v":750},{"k":54,"t":62,"v":850},{"k":54,"t":62.5,"v":750},{"k":54,"t":64,"v":900},{"k":54,"t":64.5,"v":750},{"k":54,"t":66,"v":850},{"k":54,"t":66.5,"v":750},{"k":54,"t":68,"v":850},{"k":54,"t":68.5,"v":750},{"k":54,"t":70,"v":900},{"k":54,"t":70.5,"v":750},{"k":54,"t":72,"v":850},{"k":54,"t":72.5,"v":730},{"k":54,"t":74,"v":850},{"k":54,"t":74.5,"v":730},{"k":54,"t":76,"v":1000},{"k":54,"t":76.5,"v":730},{"k":54,"t":78,"v":850},{"k":54,"t":78.5,"v":730},{"k":54,"t":80,"v":900},{"k":54,"t":80.5,"v":730},{"k":54,"t":82,"v":850},{"k":54,"t":82.5,"v":730},{"k":54,"t":84,"v":900},{"k":54,"t":84.5,"v":720},{"k":54,"t":86,"v":1000},{"k":54,"t":86.5,"v":720},{"k":54,"t":88,"v":800},{"k":54,"t":88.5,"v":720},{"k":54,"t":90,"v":1000},{"k":54,"t":90.5,"v":720},{"k":54,"t":92,"v":850},{"k":54,"t":92.5,"v":720},{"k":54,"t":94,"v":800},{"k":54,"t":94.5,"v":720},{"k":54,"t":96,"v":900},{"k":54,"t":96.5,"v":720},{"k":54,"t":98,"v":800},{"k":54,"t":98.5,"v":720},{"k":54,"t":100,"v":850},{"k":54,"t":100.5,"v":720},{"k":54,"t":102,"v":800},{"k":54,"t":102.5,"v":700},{"k":54,"t":104,"v":850},{"k":54,"t":104.5,"v":700},{"k":54,"t":106,"v":800},{"k":54,"t":106.5,"v":700},{"k":54,"t":108,"v":850},{"k":54,"t":108.5,"v":700},{"k":54,"t":110,"v":800},{"k":54,"t":110.5,"v":700},{"k":54,"t":112,"v":780},{"k":54,"t":112.5,"v":700},{"k":54,"t":114,"v":800},{"k":54,"t":114.5,"v":700},{"k":54,"t":115.5,"v":1100},{"k":54,"t":116,"v":700},{"k":54,"t":118,"v":800},{"k":54,"t":118.5,"v":700},{"k":54,"t":120,"v":700}
],
"nres":[
{"k":61,"t":0,"v":0},{"k":61,"t":0.5,"v":1500},{"k":61,"t":1,"v":800},{"k":61,"t":1.5,"v":1500},{"k":61,"t":2,"v":1000},{"k":61,"t":2.5,"v":4000},{"k":61,"t":2.8,"v":44400},{"k":61,"t":3,"v":5000},{"k":61,"t":3.3,"v":2500},{"k":61,"t":3.6,"v":1500},{"k":61,"t":4,"v":1200},{"k":61,"t":5,"v":700},{"k":61,"t":6,"v":600},{"k":61,"t":6.5,"v":800},{"k":61,"t":7,"v":300},{"k":61,"t":10,"v":250},{"k":61,"t":20,"v":200},{"k":61,"t":50,"v":150},{"k":61,"t":100,"v":150},{"k":61,"t":120,"v":150},
{"k":62,"t":0,"v":0},{"k":62,"t":0.3,"v":2000},{"k":62,"t":0.8,"v":500},{"k":62,"t":1,"v":800},{"k":62,"t":1.5,"v":1200},{"k":62,"t":2,"v":600},{"k":62,"t":2.5,"v":1000},{"k":62,"t":2.8,"v":3000},{"k":62,"t":3.2,"v":1500},{"k":62,"t":4,"v":1000},{"k":62,"t":5,"v":600},{"k":62,"t":6,"v":200},{"k":62,"t":7,"v":500},{"k":62,"t":10,"v":150},{"k":62,"t":11,"v":600},{"k":62,"t":11.5,"v":150},{"k":62,"t":20,"v":100},{"k":62,"t":50,"v":100},{"k":62,"t":95,"v":200},{"k":62,"t":120,"v":100},
{"k":63,"t":0,"v":0},{"k":63,"t":0.5,"v":800},{"k":63,"t":1,"v":900},{"k":63,"t":2,"v":1000},{"k":63,"t":3,"v":1500},{"k":63,"t":3.5,"v":2200},{"k":63,"t":4,"v":1800},{"k":63,"t":4.5,"v":1200},{"k":63,"t":5,"v":800},{"k":63,"t":6,"v":500},{"k":63,"t":8,"v":300},{"k":63,"t":10,"v":300},{"k":63,"t":15,"v":300},{"k":63,"t":20,"v":400},{"k":63,"t":25,"v":350},{"k":63,"t":30,"v":350},{"k":63,"t":35,"v":300},{"k":63,"t":40,"v":350},{"k":63,"t":45,"v":350},{"k":63,"t":50,"v":350},{"k":63,"t":55,"v":300},{"k":63,"t":60,"v":300},{"k":63,"t":65,"v":300},{"k":63,"t":70,"v":350},{"k":63,"t":75,"v":350},{"k":63,"t":80,"v":400},{"k":63,"t":84,"v":500},{"k":63,"t":85,"v":350},{"k":63,"t":90,"v":300},{"k":63,"t":95,"v":350},{"k":63,"t":100,"v":350},{"k":63,"t":105,"v":300},{"k":63,"t":108,"v":450},{"k":63,"t":110,"v":350},{"k":63,"t":115,"v":400},{"k":63,"t":118,"v":350},{"k":63,"t":120,"v":350},
{"k":64,"t":0,"v":0},{"k":64,"t":0.1,"v":13700},{"k":64,"t":0.4,"v":8000},{"k":64,"t":0.6,"v":11000},{"k":64,"t":0.8,"v":7500},{"k":64,"t":1,"v":7000},{"k":64,"t":1.5,"v":6700},{"k":64,"t":2,"v":6500},{"k":64,"t":2.5,"v":6300},{"k":64,"t":2.8,"v":6400},{"k":64,"t":3,"v":19000},{"k":64,"t":3.2,"v":11000},{"k":64,"t":3.5,"v":25500},{"k":64,"t":3.7,"v":27800},{"k":64,"t":4,"v":17500},{"k":64,"t":4.3,"v":22000},{"k":64,"t":4.6,"v":16500},{"k":64,"t":4.9,"v":23500},{"k":64,"t":5.1,"v":17000},{"k":64,"t":5.3,"v":19500},{"k":64,"t":5.5,"v":8000},{"k":64,"t":5.7,"v":1800},{"k":64,"t":6,"v":1500},{"k":64,"t":6.5,"v":2600},{"k":64,"t":7,"v":1500},{"k":64,"t":7.5,"v":2200},{"k":64,"t":8,"v":1600},{"k":64,"t":8.5,"v":2000},{"k":64,"t":9,"v":1500},{"k":64,"t":9.5,"v":2000},{"k":64,"t":10,"v":1500},{"k":64,"t":10.5,"v":1900},{"k":64,"t":11,"v":1400},{"k":64,"t":11.5,"v":2200},{"k":64,"t":12,"v":1500},{"k":64,"t":12.5,"v":1800},{"k":64,"t":13,"v":1400},{"k":64,"t":13.5,"v":2800},{"k":64,"t":14,"v":1500},{"k":64,"t":14.5,"v":1800},{"k":64,"t":15,"v":1500},{"k":64,"t":16,"v":2300},{"k":64,"t":16.5,"v":1500},{"k":64,"t":17,"v":2800},{"k":64,"t":17.5,"v":1600},{"k":64,"t":18,"v":2200},{"k":64,"t":18.5,"v":1600},{"k":64,"t":19,"v":2500},{"k":64,"t":19.5,"v":1600},{"k":64,"t":20,"v":2300},{"k":64,"t":20.5,"v":1800},{"k":64,"t":21,"v":1500},{"k":64,"t":21.5,"v":2800},{"k":64,"t":22,"v":1700},{"k":64,"t":22.5,"v":2300},{"k":64,"t":23,"v":2000},{"k":64,"t":23.5,"v":3500},{"k":64,"t":24,"v":2200},{"k":64,"t":24.5,"v":2500},{"k":64,"t":25,"v":4700},{"k":64,"t":25.5,"v":2400},{"k":64,"t":26,"v":5600},{"k":64,"t":26.5,"v":3000},{"k":64,"t":27,"v":5900},{"k":64,"t":27.5,"v":3200},{"k":64,"t":28,"v":5400},{"k":64,"t":28.5,"v":3300},{"k":64,"t":29,"v":7300},{"k":64,"t":29.5,"v":4000},{"k":64,"t":30,"v":12000},{"k":64,"t":30.3,"v":5000},{"k":64,"t":30.7,"v":14800},{"k":64,"t":31,"v":6500},{"k":64,"t":31.5,"v":14700},{"k":64,"t":31.8,"v":7000},{"k":64,"t":32,"v":17800},{"k":64,"t":32.3,"v":20300},{"k":64,"t":32.7,"v":9000},{"k":64,"t":33,"v":16000},{"k":64,"t":33.3,"v":5500},{"k":64,"t":33.6,"v":10500},{"k":64,"t":34,"v":6000},{"k":64,"t":34.3,"v":13000},{"k":64,"t":34.6,"v":3000},{"k":64,"t":35,"v":1500},{"k":64,"t":35.5,"v":2500},{"k":64,"t":36,"v":1500},{"k":64,"t":36.5,"v":2500},{"k":64,"t":37.2,"v":8300},{"k":64,"t":37.5,"v":1500},{"k":64,"t":38,"v":2500},{"k":64,"t":38.5,"v":1500},{"k":64,"t":38.9,"v":6300},{"k":64,"t":39.3,"v":1500},{"k":64,"t":40,"v":4500},{"k":64,"t":40.5,"v":1600},{"k":64,"t":41,"v":2500},{"k":64,"t":41.5,"v":1500},{"k":64,"t":42,"v":3000},{"k":64,"t":42.5,"v":1500},{"k":64,"t":43,"v":2200},{"k":64,"t":43.5,"v":1500},{"k":64,"t":44,"v":2500},{"k":64,"t":44.5,"v":1500},{"k":64,"t":45,"v":2000},{"k":64,"t":45.5,"v":1500},{"k":64,"t":46,"v":2000},{"k":64,"t":46.5,"v":1500},{"k":64,"t":47,"v":1800},{"k":64,"t":47.5,"v":1500},{"k":64,"t":48,"v":7400},{"k":64,"t":48.4,"v":1500},{"k":64,"t":49,"v":2200},{"k":64,"t":49.5,"v":1500},{"k":64,"t":50,"v":2300},{"k":64,"t":50.5,"v":1500},{"k":64,"t":51,"v":2600},{"k":64,"t":51.5,"v":1500},{"k":64,"t":52.2,"v":4000},{"k":64,"t":52.6,"v":1500},{"k":64,"t":53,"v":2600},{"k":64,"t":53.5,"v":1500},{"k":64,"t":54,"v":2800},{"k":64,"t":54.5,"v":1500},{"k":64,"t":55,"v":2200},{"k":64,"t":55.4,"v":1500},{"k":64,"t":55.9,"v":6400},{"k":64,"t":56.2,"v":1500},{"k":64,"t":57,"v":2500},{"k":64,"t":57.5,"v":1500},{"k":64,"t":58,"v":2000},{"k":64,"t":58.5,"v":1500},{"k":64,"t":60,"v":1900},{"k":64,"t":60.5,"v":1450},{"k":64,"t":62,"v":1800},{"k":64,"t":62.5,"v":1450},{"k":64,"t":64,"v":1800},{"k":64,"t":64.5,"v":1400},{"k":64,"t":66,"v":1800},{"k":64,"t":66.5,"v":1400},{"k":64,"t":68,"v":1700},{"k":64,"t":68.5,"v":1400},{"k":64,"t":70,"v":1800},{"k":64,"t":70.5,"v":1400},{"k":64,"t":72,"v":1700},{"k":64,"t":72.5,"v":1400},{"k":64,"t":74,"v":1800},{"k":64,"t":74.5,"v":1400},{"k":64,"t":76,"v":1900},{"k":64,"t":76.5,"v":1400},{"k":64,"t":78,"v":1700},{"k":64,"t":78.5,"v":1400},{"k":64,"t":80,"v":1800},{"k":64,"t":80.5,"v":1400},{"k":64,"t":82,"v":1700},{"k":64,"t":82.5,"v":1400},{"k":64,"t":84,"v":1800},{"k":64,"t":84.5,"v":1400},{"k":64,"t":86,"v":1700},{"k":64,"t":86.5,"v":1400},{"k":64,"t":88,"v":1700},{"k":64,"t":88.5,"v":1400},{"k":64,"t":90,"v":2000},{"k":64,"t":90.5,"v":1400},{"k":64,"t":92,"v":1700},{"k":64,"t":92.5,"v":1400},{"k":64,"t":94,"v":1800},{"k":64,"t":94.5,"v":1400},{"k":64,"t":96,"v":1700},{"k":64,"t":96.5,"v":1400},{"k":64,"t":98,"v":1700},{"k":64,"t":98.5,"v":1400},{"k":64,"t":100,"v":1800},{"k":64,"t":100.5,"v":1400},{"k":64,"t":102,"v":1700},{"k":64,"t":102.5,"v":1400},{"k":64,"t":104,"v":1800},{"k":64,"t":104.5,"v":1400},{"k":64,"t":106,"v":1700},{"k":64,"t":106.5,"v":1400},{"k":64,"t":108,"v":1800},{"k":64,"t":108.5,"v":1400},{"k":64,"t":110,"v":1700},{"k":64,"t":110.5,"v":1400},{"k":64,"t":112,"v":1700},{"k":64,"t":112.5,"v":1400},{"k":64,"t":114,"v":1700},{"k":64,"t":114.5,"v":1400},{"k":64,"t":115.5,"v":2200},{"k":64,"t":116,"v":1400},{"k":64,"t":118,"v":1700},{"k":64,"t":118.5,"v":1400},{"k":64,"t":120,"v":1400}
],
"liniter":[
{"k":71,"t":0,"v":0},{"k":71,"t":0.5,"v":3000},{"k":71,"t":1,"v":2000},{"k":71,"t":1.5,"v":2500},{"k":71,"t":2,"v":3000},{"k":71,"t":2.5,"v":4000},{"k":71,"t":2.8,"v":30000},{"k":71,"t":3,"v":60000},{"k":71,"t":3.3,"v":6000},{"k":71,"t":3.6,"v":4000},{"k":71,"t":4,"v":3000},{"k":71,"t":5,"v":2500},{"k":71,"t":6,"v":3000},{"k":71,"t":6.5,"v":5500},{"k":71,"t":7,"v":2000},{"k":71,"t":10,"v":1500},{"k":71,"t":15,"v":1000},{"k":71,"t":17,"v":500},{"k":71,"t":20,"v":1000},{"k":71,"t":30,"v":800},{"k":71,"t":50,"v":700},{"k":71,"t":80,"v":600},{"k":71,"t":100,"v":500},{"k":71,"t":120,"v":500},
{"k":72,"t":0,"v":0},{"k":72,"t":0.3,"v":5000},{"k":72,"t":0.6,"v":2000},{"k":72,"t":1,"v":3000},{"k":72,"t":1.5,"v":2500},{"k":72,"t":2,"v":3500},{"k":72,"t":2.5,"v":3000},{"k":72,"t":3,"v":5000},{"k":72,"t":3.5,"v":4000},{"k":72,"t":4,"v":6000},{"k":72,"t":4.5,"v":4000},{"k":72,"t":5,"v":3000},{"k":72,"t":5.5,"v":2000},{"k":72,"t":6,"v":1500},{"k":72,"t":8,"v":1500},{"k":72,"t":10,"v":1800},{"k":72,"t":11,"v":2000},{"k":72,"t":12,"v":1200},{"k":72,"t":14,"v":1000},{"k":72,"t":16,"v":800},{"k":72,"t":18,"v":1000},{"k":72,"t":20,"v":800},{"k":72,"t":30,"v":800},{"k":72,"t":40,"v":700},{"k":72,"t":50,"v":600},{"k":72,"t":60,"v":600},{"k":72,"t":70,"v":500},{"k":72,"t":80,"v":500},{"k":72,"t":95,"v":400},{"k":72,"t":95.5,"v":1500},{"k":72,"t":96,"v":400},{"k":72,"t":107,"v":600},{"k":72,"t":120,"v":400},
{"k":73,"t":0,"v":0},{"k":73,"t":0.3,"v":4000},{"k":73,"t":1,"v":3500},{"k":73,"t":2,"v":5000},{"k":73,"t":2.5,"v":7000},{"k":73,"t":3,"v":8000},{"k":73,"t":3.5,"v":11500},{"k":73,"t":3.8,"v":9000},{"k":73,"t":4,"v":7000},{"k":73,"t":4.5,"v":9000},{"k":73,"t":5,"v":5000},{"k":73,"t":5.5,"v":2000},{"k":73,"t":6,"v":2000},{"k":73,"t":8,"v":2000},{"k":73,"t":10,"v":1900},{"k":73,"t":12,"v":2100},{"k":73,"t":14,"v":2000},{"k":73,"t":16,"v":2200},{"k":73,"t":18,"v":2300},{"k":73,"t":20,"v":2400},{"k":73,"t":20.5,"v":3000},{"k":73,"t":21,"v":2200},{"k":73,"t":24,"v":2000},{"k":73,"t":26,"v":2300},{"k":73,"t":28,"v":2500},{"k":73,"t":30,"v":3000},{"k":73,"t":31,"v":2800},{"k":73,"t":33,"v":2500},{"k":73,"t":35,"v":2200},{"k":73,"t":37,"v":2000},{"k":73,"t":40,"v":2500},{"k":73,"t":41,"v":3500},{"k":73,"t":42,"v":2000},{"k":73,"t":45,"v":1800},{"k":73,"t":46,"v":2800},{"k":73,"t":47,"v":1700},{"k":73,"t":50,"v":2000},{"k":73,"t":51,"v":2800},{"k":73,"t":52,"v":1600},{"k":73,"t":55,"v":1800},{"k":73,"t":60,"v":1600},{"k":73,"t":65,"v":1500},{"k":73,"t":70,"v":1700},{"k":73,"t":74,"v":2800},{"k":73,"t":75,"v":1500},{"k":73,"t":80,"v":1500},{"k":73,"t":81,"v":3000},{"k":73,"t":82,"v":1500},{"k":73,"t":84,"v":2000},{"k":73,"t":85,"v":1300},{"k":73,"t":90,"v":1500},{"k":73,"t":95,"v":1200},{"k":73,"t":100,"v":1200},{"k":73,"t":105,"v":1000},{"k":73,"t":110,"v":1300},{"k":73,"t":115,"v":1500},{"k":73,"t":117,"v":1800},{"k":73,"t":120,"v":1200},
{"k":74,"t":0,"v":0},{"k":74,"t":0.2,"v":64500},{"k":74,"t":0.5,"v":50000},{"k":74,"t":0.8,"v":42000},{"k":74,"t":1,"v":38000},{"k":74,"t":1.5,"v":34000},{"k":74,"t":2,"v":31000},{"k":74,"t":2.5,"v":29000},{"k":74,"t":2.7,"v":29000},{"k":74,"t":3,"v":110000},{"k":74,"t":3.2,"v":72000},{"k":74,"t":3.5,"v":103000},{"k":74,"t":3.7,"v":76000},{"k":74,"t":3.9,"v":95000},{"k":74,"t":4.3,"v":110000},{"k":74,"t":4.6,"v":142000},{"k":74,"t":4.8,"v":80000},{"k":74,"t":5.1,"v":109000},{"k":74,"t":5.3,"v":52000},{"k":74,"t":5.5,"v":12000},{"k":74,"t":6,"v":9000},{"k":74,"t":6.5,"v":17000},{"k":74,"t":7,"v":9000},{"k":74,"t":7.5,"v":14000},{"k":74,"t":8,"v":8500},{"k":74,"t":8.5,"v":13000},{"k":74,"t":9,"v":8000},{"k":74,"t":9.5,"v":14000},{"k":74,"t":10,"v":9000},{"k":74,"t":10.5,"v":12000},{"k":74,"t":11,"v":8000},{"k":74,"t":11.5,"v":13000},{"k":74,"t":12,"v":8000},{"k":74,"t":12.5,"v":20000},{"k":74,"t":13,"v":9000},{"k":74,"t":13.5,"v":12000},{"k":74,"t":14,"v":9000},{"k":74,"t":15,"v":18000},{"k":74,"t":15.5,"v":10000},{"k":74,"t":16,"v":13000},{"k":74,"t":16.5,"v":9000},{"k":74,"t":17,"v":21000},{"k":74,"t":17.5,"v":11000},{"k":74,"t":18,"v":17000},{"k":74,"t":18.5,"v":10000},{"k":74,"t":19,"v":19000},{"k":74,"t":19.5,"v":11000},{"k":74,"t":20,"v":13000},{"k":74,"t":20.5,"v":11000},{"k":74,"t":21,"v":18000},{"k":74,"t":21.5,"v":10000},{"k":74,"t":22,"v":14000},{"k":74,"t":22.5,"v":12000},{"k":74,"t":23,"v":26000},{"k":74,"t":23.5,"v":13000},{"k":74,"t":24,"v":40000},{"k":74,"t":24.5,"v":16000},{"k":74,"t":25,"v":26000},{"k":74,"t":25.5,"v":14000},{"k":74,"t":26,"v":49000},{"k":74,"t":26.5,"v":18000},{"k":74,"t":27,"v":51000},{"k":74,"t":27.5,"v":20000},{"k":74,"t":28,"v":40000},{"k":74,"t":28.5,"v":25000},{"k":74,"t":29,"v":59000},{"k":74,"t":29.5,"v":30000},{"k":74,"t":30,"v":100000},{"k":74,"t":30.4,"v":40000},{"k":74,"t":30.8,"v":68000},{"k":74,"t":31.2,"v":50000},{"k":74,"t":31.5,"v":90000},{"k":74,"t":32,"v":60000},{"k":74,"t":32.4,"v":148000},{"k":74,"t":32.8,"v":70000},{"k":74,"t":33,"v":120000},{"k":74,"t":33.5,"v":55000},{"k":74,"t":34,"v":105000},{"k":74,"t":34.3,"v":35000},{"k":74,"t":34.6,"v":75000},{"k":74,"t":35,"v":15000},{"k":74,"t":35.5,"v":12000},{"k":74,"t":36,"v":20000},{"k":74,"t":36.5,"v":9000},{"k":74,"t":37.2,"v":62000},{"k":74,"t":37.6,"v":12000},{"k":74,"t":38,"v":25000},{"k":74,"t":38.5,"v":8000},{"k":74,"t":39,"v":47000},{"k":74,"t":39.3,"v":9000},{"k":74,"t":40,"v":25000},{"k":74,"t":40.5,"v":8000},{"k":74,"t":41,"v":17000},{"k":74,"t":41.5,"v":9000},{"k":74,"t":42,"v":23000},{"k":74,"t":42.5,"v":6000},{"k":74,"t":43,"v":12000},{"k":74,"t":43.5,"v":7000},{"k":74,"t":44,"v":15000},{"k":74,"t":44.5,"v":7000},{"k":74,"t":45,"v":13000},{"k":74,"t":45.5,"v":7000},{"k":74,"t":46,"v":15000},{"k":74,"t":46.5,"v":7000},{"k":74,"t":47,"v":12000},{"k":74,"t":47.5,"v":7000},{"k":74,"t":48.3,"v":55000},{"k":74,"t":48.6,"v":8000},{"k":74,"t":49,"v":12000},{"k":74,"t":49.5,"v":7000},{"k":74,"t":50,"v":12000},{"k":74,"t":50.5,"v":7000},{"k":74,"t":51,"v":19000},{"k":74,"t":51.5,"v":8000},{"k":74,"t":52.4,"v":26000},{"k":74,"t":52.8,"v":8000},{"k":74,"t":53,"v":14000},{"k":74,"t":53.5,"v":7000},{"k":74,"t":54,"v":17000},{"k":74,"t":54.5,"v":7000},{"k":74,"t":55,"v":16000},{"k":74,"t":55.5,"v":7000},{"k":74,"t":56,"v":48000},{"k":74,"t":56.3,"v":8000},{"k":74,"t":57,"v":18000},{"k":74,"t":57.5,"v":6000},{"k":74,"t":58,"v":14000},{"k":74,"t":58.5,"v":6000},{"k":74,"t":59,"v":12000},{"k":74,"t":59.5,"v":5000},{"k":74,"t":60,"v":11000},{"k":74,"t":60.5,"v":5000},{"k":74,"t":61,"v":12000},{"k":74,"t":61.5,"v":5000},{"k":74,"t":62,"v":11000},{"k":74,"t":62.5,"v":5000},{"k":74,"t":63,"v":12000},{"k":74,"t":63.5,"v":5000},{"k":74,"t":64,"v":11000},{"k":74,"t":64.5,"v":5000},{"k":74,"t":65,"v":12000},{"k":74,"t":65.5,"v":5000},{"k":74,"t":66,"v":11000},{"k":74,"t":66.5,"v":5000},{"k":74,"t":67,"v":10000},{"k":74,"t":67.5,"v":5000},{"k":74,"t":68,"v":12000},{"k":74,"t":68.5,"v":5000},{"k":74,"t":69,"v":11000},{"k":74,"t":69.5,"v":5000},{"k":74,"t":70,"v":10000},{"k":74,"t":70.5,"v":5000},{"k":74,"t":71,"v":11000},{"k":74,"t":71.5,"v":5000},{"k":74,"t":72,"v":12000},{"k":74,"t":72.5,"v":5000},{"k":74,"t":73,"v":10000},{"k":74,"t":73.5,"v":5000},{"k":74,"t":74,"v":11000},{"k":74,"t":74.5,"v":5000},{"k":74,"t":75,"v":14000},{"k":74,"t":75.5,"v":5000},{"k":74,"t":76,"v":10000},{"k":74,"t":76.5,"v":5000},{"k":74,"t":77,"v":11000},{"k":74,"t":77.5,"v":5000},{"k":74,"t":78,"v":12000},{"k":74,"t":78.5,"v":5000},{"k":74,"t":79,"v":10000},{"k":74,"t":79.5,"v":4500},{"k":74,"t":80,"v":11000},{"k":74,"t":80.5,"v":4500},{"k":74,"t":81,"v":10000},{"k":74,"t":81.5,"v":4500},{"k":74,"t":82,"v":12000},{"k":74,"t":82.5,"v":4500},{"k":74,"t":83,"v":10000},{"k":74,"t":83.5,"v":4500},{"k":74,"t":84,"v":11000},{"k":74,"t":84.5,"v":4500},{"k":74,"t":85,"v":10000},{"k":74,"t":85.5,"v":4500},{"k":74,"t":86,"v":12000},{"k":74,"t":86.5,"v":4500},{"k":74,"t":87,"v":10000},{"k":74,"t":87.5,"v":4500},{"k":74,"t":88,"v":9000},{"k":74,"t":88.5,"v":4500},{"k":74,"t":89,"v":14000},{"k":74,"t":89.5,"v":4500},{"k":74,"t":90,"v":10000},{"k":74,"t":90.5,"v":4500},{"k":74,"t":91,"v":9000},{"k":74,"t":91.5,"v":4500},{"k":74,"t":92,"v":11000},{"k":74,"t":92.5,"v":4500},{"k":74,"t":93,"v":9000},{"k":74,"t":93.5,"v":4500},{"k":74,"t":94,"v":12000},{"k":74,"t":94.5,"v":4500},{"k":74,"t":95,"v":9000},{"k":74,"t":95.5,"v":4500},{"k":74,"t":96,"v":10000},{"k":74,"t":96.5,"v":4500},{"k":74,"t":97,"v":11000},{"k":74,"t":97.5,"v":4500},{"k":74,"t":98,"v":9000},{"k":74,"t":98.5,"v":4500},{"k":74,"t":99,"v":10000},{"k":74,"t":99.5,"v":4500},{"k":74,"t":100,"v":12000},{"k":74,"t":100.5,"v":4000},{"k":74,"t":101,"v":9000},{"k":74,"t":101.5,"v":4000},{"k":74,"t":102,"v":13000},{"k":74,"t":102.5,"v":4000},{"k":74,"t":103,"v":9000},{"k":74,"t":103.5,"v":4000},{"k":74,"t":104,"v":10000},{"k":74,"t":104.5,"v":4000},{"k":74,"t":105,"v":8000},{"k":74,"t":105.5,"v":4000},{"k":74,"t":106,"v":9000},{"k":74,"t":106.5,"v":4000},{"k":74,"t":107,"v":10000},{"k":74,"t":107.5,"v":4000},{"k":74,"t":108,"v":8000},{"k":74,"t":108.5,"v":4000},{"k":74,"t":109,"v":9000},{"k":74,"t":109.5,"v":4000},{"k":74,"t":110,"v":10000},{"k":74,"t":110.5,"v":4000},{"k":74,"t":111,"v":8000},{"k":74,"t":111.5,"v":4000},{"k":74,"t":112,"v":9000},{"k":74,"t":112.5,"v":4000},{"k":74,"t":113,"v":10000},{"k":74,"t":113.5,"v":4000},{"k":74,"t":114,"v":8000},{"k":74,"t":114.5,"v":4000},{"k":74,"t":115,"v":14000},{"k":74,"t":115.5,"v":4000},{"k":74,"t":116,"v":9000},{"k":74,"t":116.5,"v":4000},{"k":74,"t":117,"v":8000},{"k":74,"t":117.5,"v":5000},{"k":74,"t":118,"v":12000},{"k":74,"t":118.5,"v":5000},{"k":74,"t":119,"v":7000},{"k":74,"t":119.5,"v":6000},{"k":74,"t":120,"v":6000}
],
"runtime":[
{"k":81,"t":0,"v":0},{"k":81,"t":2.5,"v":0},{"k":81,"t":2.8,"v":400},{"k":81,"t":3,"v":50},{"k":81,"t":4,"v":10},{"k":81,"t":120,"v":10},
{"k":82,"t":0,"v":0},{"k":82,"t":5,"v":8},{"k":82,"t":120,"v":5},
{"k":83,"t":0,"v":0},{"k":83,"t":5,"v":30},{"k":83,"t":120,"v":25},
{"k":84,"t":0,"v":0},{"k":84,"t":0.1,"v":5600},{"k":84,"t":0.3,"v":7000},{"k":84,"t":0.5,"v":7800},{"k":84,"t":0.8,"v":6800},{"k":84,"t":1,"v":7100},{"k":84,"t":1.5,"v":7000},{"k":84,"t":2,"v":6700},{"k":84,"t":2.5,"v":6600},{"k":84,"t":2.8,"v":14200},{"k":84,"t":3,"v":9000},{"k":84,"t":3.2,"v":24000},{"k":84,"t":3.4,"v":17500},{"k":84,"t":3.6,"v":21000},{"k":84,"t":3.8,"v":15300},{"k":84,"t":4,"v":22000},{"k":84,"t":4.2,"v":15500},{"k":84,"t":4.5,"v":26600},{"k":84,"t":4.7,"v":18000},{"k":84,"t":5,"v":20500},{"k":84,"t":5.2,"v":10000},{"k":84,"t":5.4,"v":2200},{"k":84,"t":6,"v":1800},{"k":84,"t":6.5,"v":3200},{"k":84,"t":7,"v":1700},{"k":84,"t":7.5,"v":2500},{"k":84,"t":8,"v":1600},{"k":84,"t":8.5,"v":2500},{"k":84,"t":9,"v":1600},{"k":84,"t":9.5,"v":2500},{"k":84,"t":10,"v":1500},{"k":84,"t":10.5,"v":2400},{"k":84,"t":11,"v":1500},{"k":84,"t":11.5,"v":2000},{"k":84,"t":12,"v":1300},{"k":84,"t":12.5,"v":2000},{"k":84,"t":13,"v":1400},{"k":84,"t":14,"v":2900},{"k":84,"t":14.5,"v":1400},{"k":84,"t":15,"v":2000},{"k":84,"t":15.5,"v":1500},{"k":84,"t":16,"v":2100},{"k":84,"t":16.5,"v":1600},{"k":84,"t":17,"v":3100},{"k":84,"t":17.5,"v":1800},{"k":84,"t":18,"v":2500},{"k":84,"t":18.5,"v":1700},{"k":84,"t":19,"v":3000},{"k":84,"t":19.5,"v":1700},{"k":84,"t":20,"v":2500},{"k":84,"t":20.5,"v":1800},{"k":84,"t":21,"v":2200},{"k":84,"t":21.5,"v":1900},{"k":84,"t":22,"v":2800},{"k":84,"t":22.5,"v":2000},{"k":84,"t":23,"v":3200},{"k":84,"t":23.5,"v":2000},{"k":84,"t":24,"v":4200},{"k":84,"t":24.5,"v":2400},{"k":84,"t":25,"v":3200},{"k":84,"t":25.5,"v":2000},{"k":84,"t":26,"v":6500},{"k":84,"t":26.5,"v":2800},{"k":84,"t":27,"v":6900},{"k":84,"t":27.5,"v":3000},{"k":84,"t":28,"v":7100},{"k":84,"t":28.5,"v":3500},{"k":84,"t":29,"v":6400},{"k":84,"t":29.5,"v":3800},{"k":84,"t":30,"v":7900},{"k":84,"t":30.4,"v":4000},{"k":84,"t":30.7,"v":13000},{"k":84,"t":31,"v":6000},{"k":84,"t":31.5,"v":15900},{"k":84,"t":31.8,"v":7000},{"k":84,"t":32,"v":16900},{"k":84,"t":32.4,"v":10000},{"k":84,"t":32.7,"v":18900},{"k":84,"t":33,"v":9000},{"k":84,"t":33.4,"v":12800},{"k":84,"t":33.8,"v":4000},{"k":84,"t":34.2,"v":9000},{"k":84,"t":34.5,"v":2500},{"k":84,"t":35,"v":1500},{"k":84,"t":35.5,"v":3000},{"k":84,"t":36,"v":1200},{"k":84,"t":36.5,"v":2500},{"k":84,"t":37,"v":7300},{"k":84,"t":37.4,"v":1500},{"k":84,"t":38,"v":2500},{"k":84,"t":38.3,"v":1200},{"k":84,"t":38.6,"v":5300},{"k":84,"t":39,"v":1200},{"k":84,"t":40,"v":3200},{"k":84,"t":40.5,"v":1200},{"k":84,"t":41,"v":2000},{"k":84,"t":41.5,"v":1100},{"k":84,"t":42,"v":1500},{"k":84,"t":42.5,"v":1000},{"k":84,"t":43,"v":1500},{"k":84,"t":43.5,"v":1000},{"k":84,"t":44,"v":1200},{"k":84,"t":44.5,"v":900},{"k":84,"t":45,"v":1500},{"k":84,"t":45.5,"v":900},{"k":84,"t":46,"v":1200},{"k":84,"t":46.5,"v":900},{"k":84,"t":47,"v":1200},{"k":84,"t":47.5,"v":900},{"k":84,"t":48,"v":5200},{"k":84,"t":48.4,"v":900},{"k":84,"t":49,"v":1400},{"k":84,"t":49.5,"v":900},{"k":84,"t":50,"v":1800},{"k":84,"t":50.5,"v":800},{"k":84,"t":51,"v":1200},{"k":84,"t":51.5,"v":800},{"k":84,"t":52.3,"v":2400},{"k":84,"t":52.6,"v":800},{"k":84,"t":53,"v":1500},{"k":84,"t":53.5,"v":800},{"k":84,"t":54,"v":1300},{"k":84,"t":54.5,"v":800},{"k":84,"t":55,"v":1200},{"k":84,"t":55.5,"v":800},{"k":84,"t":55.9,"v":4100},{"k":84,"t":56.2,"v":800},{"k":84,"t":57,"v":1400},{"k":84,"t":57.5,"v":700},{"k":84,"t":58,"v":900},{"k":84,"t":58.5,"v":700},{"k":84,"t":60,"v":1000},{"k":84,"t":60.5,"v":650},{"k":84,"t":61.5,"v":950},{"k":84,"t":62,"v":650},{"k":84,"t":63,"v":1000},{"k":84,"t":63.5,"v":650},{"k":84,"t":64.5,"v":900},{"k":84,"t":65,"v":650},{"k":84,"t":66,"v":950},{"k":84,"t":66.5,"v":600},{"k":84,"t":67.5,"v":900},{"k":84,"t":68,"v":600},{"k":84,"t":69,"v":1000},{"k":84,"t":69.5,"v":600},{"k":84,"t":70.5,"v":900},{"k":84,"t":71,"v":600},{"k":84,"t":72,"v":900},{"k":84,"t":72.5,"v":600},{"k":84,"t":73.5,"v":950},{"k":84,"t":74,"v":600},{"k":84,"t":75,"v":1100},{"k":84,"t":75.5,"v":600},{"k":84,"t":76.5,"v":900},{"k":84,"t":77,"v":600},{"k":84,"t":78,"v":950},{"k":84,"t":78.5,"v":550},{"k":84,"t":79.5,"v":900},{"k":84,"t":80,"v":550},{"k":84,"t":81,"v":950},{"k":84,"t":81.5,"v":550},{"k":84,"t":82.5,"v":900},{"k":84,"t":83,"v":550},{"k":84,"t":84,"v":950},{"k":84,"t":84.5,"v":550},{"k":84,"t":85.5,"v":900},{"k":84,"t":86,"v":550},{"k":84,"t":87,"v":900},{"k":84,"t":87.5,"v":550},{"k":84,"t":89,"v":1100},{"k":84,"t":89.5,"v":550},{"k":84,"t":90.5,"v":900},{"k":84,"t":91,"v":550},{"k":84,"t":92,"v":900},{"k":84,"t":92.5,"v":550},{"k":84,"t":93.5,"v":950},{"k":84,"t":94,"v":550},{"k":84,"t":95,"v":900},{"k":84,"t":95.5,"v":550},{"k":84,"t":97,"v":950},{"k":84,"t":97.5,"v":550},{"k":84,"t":98.5,"v":900},{"k":84,"t":99,"v":550},{"k":84,"t":100,"v":1000},{"k":84,"t":100.5,"v":550},{"k":84,"t":101.5,"v":900},{"k":84,"t":102,"v":500},{"k":84,"t":103,"v":800},{"k":84,"t":103.5,"v":500},{"k":84,"t":104.5,"v":850},{"k":84,"t":105,"v":500},{"k":84,"t":106,"v":700},{"k":84,"t":106.5,"v":500},{"k":84,"t":107.5,"v":1000},{"k":84,"t":108,"v":500},{"k":84,"t":109,"v":800},{"k":84,"t":109.5,"v":500},{"k":84,"t":110.5,"v":900},{"k":84,"t":111,"v":500},{"k":84,"t":112,"v":800},{"k":84,"t":112.5,"v":500},{"k":84,"t":113.5,"v":800},{"k":84,"t":114,"v":500},{"k":84,"t":115,"v":1100},{"k":84,"t":115.5,"v":550},{"k":84,"t":116.5,"v":800},{"k":84,"t":117,"v":550},{"k":84,"t":118,"v":900},{"k":84,"t":118.5,"v":550},{"k":84,"t":119,"v":700},{"k":84,"t":120,"v":650}
],
"tlinsol":[
{"k":91,"t":0,"v":0},{"k":91,"t":2.5,"v":0},{"k":91,"t":2.8,"v":200},{"k":91,"t":3.1,"v":20},{"k":91,"t":4,"v":5},{"k":91,"t":120,"v":5},
{"k":92,"t":0,"v":0},{"k":92,"t":5,"v":5},{"k":92,"t":120,"v":3},
{"k":93,"t":0,"v":0},{"k":93,"t":5,"v":15},{"k":93,"t":120,"v":15},
{"k":94,"t":0,"v":0},{"k":94,"t":0.1,"v":3400},{"k":94,"t":0.2,"v":4200},{"k":94,"t":0.4,"v":6000},{"k":94,"t":0.6,"v":5300},{"k":94,"t":0.8,"v":5500},{"k":94,"t":1,"v":5400},{"k":94,"t":1.5,"v":5200},{"k":94,"t":2,"v":5200},{"k":94,"t":2.4,"v":4900},{"k":94,"t":2.6,"v":9500},{"k":94,"t":2.8,"v":12000},{"k":94,"t":3,"v":17500},{"k":94,"t":3.2,"v":11300},{"k":94,"t":3.4,"v":16500},{"k":94,"t":3.6,"v":12000},{"k":94,"t":3.8,"v":16000},{"k":94,"t":4,"v":14000},{"k":94,"t":4.3,"v":21000},{"k":94,"t":4.5,"v":14000},{"k":94,"t":4.7,"v":17500},{"k":94,"t":4.9,"v":13800},{"k":94,"t":5.1,"v":8000},{"k":94,"t":5.3,"v":1800},{"k":94,"t":5.6,"v":1600},{"k":94,"t":6,"v":2100},{"k":94,"t":6.3,"v":1500},{"k":94,"t":6.6,"v":2700},{"k":94,"t":7,"v":1500},{"k":94,"t":7.5,"v":2000},{"k":94,"t":8,"v":1300},{"k":94,"t":8.5,"v":2000},{"k":94,"t":9,"v":1300},{"k":94,"t":9.5,"v":2100},{"k":94,"t":10,"v":1200},{"k":94,"t":10.5,"v":1900},{"k":94,"t":11,"v":1100},{"k":94,"t":11.5,"v":2000},{"k":94,"t":12,"v":1100},{"k":94,"t":12.5,"v":1500},{"k":94,"t":13,"v":1000},{"k":94,"t":13.5,"v":2400},{"k":94,"t":14,"v":1100},{"k":94,"t":14.5,"v":1600},{"k":94,"t":15,"v":1200},{"k":94,"t":16,"v":2500},{"k":94,"t":16.5,"v":1400},{"k":94,"t":17,"v":1900},{"k":94,"t":17.5,"v":1500},{"k":94,"t":18,"v":2300},{"k":94,"t":18.5,"v":1500},{"k":94,"t":19,"v":2400},{"k":94,"t":19.5,"v":1600},{"k":94,"t":20,"v":2000},{"k":94,"t":20.5,"v":1500},{"k":94,"t":21,"v":2100},{"k":94,"t":21.5,"v":1500},{"k":94,"t":22,"v":2000},{"k":94,"t":22.5,"v":1500},{"k":94,"t":23,"v":2800},{"k":94,"t":23.5,"v":1900},{"k":94,"t":24,"v":3400},{"k":94,"t":24.5,"v":1500},{"k":94,"t":25,"v":4700},{"k":94,"t":25.5,"v":2200},{"k":94,"t":26,"v":5700},{"k":94,"t":26.5,"v":2500},{"k":94,"t":27,"v":5800},{"k":94,"t":27.5,"v":2700},{"k":94,"t":28,"v":5200},{"k":94,"t":28.5,"v":3000},{"k":94,"t":29,"v":6300},{"k":94,"t":29.5,"v":3000},{"k":94,"t":30,"v":10500},{"k":94,"t":30.4,"v":4500},{"k":94,"t":30.8,"v":8000},{"k":94,"t":31,"v":4000},{"k":94,"t":31.3,"v":12800},{"k":94,"t":31.6,"v":6500},{"k":94,"t":32,"v":13500},{"k":94,"t":32.3,"v":7500},{"k":94,"t":32.6,"v":14800},{"k":94,"t":32.9,"v":6000},{"k":94,"t":33.2,"v":8500},{"k":94,"t":33.5,"v":3000},{"k":94,"t":33.8,"v":10300},{"k":94,"t":34.1,"v":1600},{"k":94,"t":34.5,"v":7000},{"k":94,"t":34.8,"v":1200},{"k":94,"t":35.3,"v":1600},{"k":94,"t":35.8,"v":1000},{"k":94,"t":36.2,"v":5700},{"k":94,"t":36.5,"v":1200},{"k":94,"t":37,"v":2000},{"k":94,"t":37.4,"v":4200},{"k":94,"t":37.7,"v":1000},{"k":94,"t":38,"v":2300},{"k":94,"t":38.5,"v":1000},{"k":94,"t":39,"v":1800},{"k":94,"t":39.5,"v":800},{"k":94,"t":40,"v":1300},{"k":94,"t":40.5,"v":800},{"k":94,"t":41,"v":1600},{"k":94,"t":41.5,"v":700},{"k":94,"t":42,"v":1000},{"k":94,"t":42.5,"v":600},{"k":94,"t":43,"v":1200},{"k":94,"t":43.5,"v":600},{"k":94,"t":44,"v":900},{"k":94,"t":44.5,"v":600},{"k":94,"t":45,"v":1000},{"k":94,"t":45.5,"v":600},{"k":94,"t":46,"v":1300},{"k":94,"t":46.5,"v":600},{"k":94,"t":47,"v":1000},{"k":94,"t":47.5,"v":600},{"k":94,"t":48,"v":3900},{"k":94,"t":48.3,"v":600},{"k":94,"t":49,"v":900},{"k":94,"t":49.5,"v":600},{"k":94,"t":50,"v":1100},{"k":94,"t":50.5,"v":600},{"k":94,"t":51,"v":1500},{"k":94,"t":51.5,"v":600},{"k":94,"t":52,"v":1700},{"k":94,"t":52.5,"v":600},{"k":94,"t":53,"v":1000},{"k":94,"t":53.5,"v":600},{"k":94,"t":54,"v":1200},{"k":94,"t":54.5,"v":600},{"k":94,"t":55,"v":1000},{"k":94,"t":55.4,"v":600},{"k":94,"t":55.8,"v":3100},{"k":94,"t":56.1,"v":600},{"k":94,"t":57,"v":1000},{"k":94,"t":57.5,"v":500},{"k":94,"t":58,"v":800},{"k":94,"t":58.5,"v":500},{"k":94,"t":59,"v":750},{"k":94,"t":59.5,"v":450},{"k":94,"t":60,"v":700},{"k":94,"t":60.5,"v":450},{"k":94,"t":61,"v":750},{"k":94,"t":61.5,"v":450},{"k":94,"t":62,"v":700},{"k":94,"t":62.5,"v":450},{"k":94,"t":63,"v":750},{"k":94,"t":63.5,"v":450},{"k":94,"t":64,"v":700},{"k":94,"t":64.5,"v":450},{"k":94,"t":65,"v":700},{"k":94,"t":65.5,"v":450},{"k":94,"t":66,"v":720},{"k":94,"t":66.5,"v":400},{"k":94,"t":67,"v":700},{"k":94,"t":67.5,"v":400},{"k":94,"t":68,"v":700},{"k":94,"t":68.5,"v":400},{"k":94,"t":69,"v":750},{"k":94,"t":69.5,"v":400},{"k":94,"t":70,"v":700},{"k":94,"t":70.5,"v":400},{"k":94,"t":71,"v":650},{"k":94,"t":71.5,"v":400},{"k":94,"t":72,"v":700},{"k":94,"t":72.5,"v":400},{"k":94,"t":73,"v":650},{"k":94,"t":73.5,"v":400},{"k":94,"t":74,"v":700},{"k":94,"t":74.5,"v":400},{"k":94,"t":75,"v":800},{"k":94,"t":75.5,"v":400},{"k":94,"t":76,"v":650},{"k":94,"t":76.5,"v":400},{"k":94,"t":77,"v":700},{"k":94,"t":77.5,"v":400},{"k":94,"t":78,"v":650},{"k":94,"t":78.5,"v":350},{"k":94,"t":79,"v":700},{"k":94,"t":79.5,"v":350},{"k":94,"t":80,"v":650},{"k":94,"t":80.5,"v":350},{"k":94,"t":81,"v":700},{"k":94,"t":81.5,"v":350},{"k":94,"t":82,"v":650},{"k":94,"t":82.5,"v":350},{"k":94,"t":84,"v":700},{"k":94,"t":84.5,"v":350},{"k":94,"t":86,"v":650},{"k":94,"t":86.5,"v":350},{"k":94,"t":88,"v":600},{"k":94,"t":88.5,"v":350},{"k":94,"t":89,"v":800},{"k":94,"t":89.5,"v":350},{"k":94,"t":91,"v":600},{"k":94,"t":91.5,"v":350},{"k":94,"t":93,"v":650},{"k":94,"t":93.5,"v":350},{"k":94,"t":95,"v":600},{"k":94,"t":95.5,"v":350},{"k":94,"t":97,"v":650},{"k":94,"t":97.5,"v":350},{"k":94,"t":99,"v":600},{"k":94,"t":99.5,"v":350},{"k":94,"t":101,"v":700},{"k":94,"t":101.5,"v":300},{"k":94,"t":103,"v":600},{"k":94,"t":103.5,"v":300},{"k":94,"t":105,"v":550},{"k":94,"t":105.5,"v":300},{"k":94,"t":107,"v":600},{"k":94,"t":107.5,"v":300},{"k":94,"t":109,"v":550},{"k":94,"t":109.5,"v":300},{"k":94,"t":111,"v":550},{"k":94,"t":111.5,"v":300},{"k":94,"t":113,"v":550},{"k":94,"t":113.5,"v":300},{"k":94,"t":115,"v":750},{"k":94,"t":115.5,"v":300},{"k":94,"t":117,"v":550},{"k":94,"t":117.5,"v":300},{"k":94,"t":118.5,"v":650},{"k":94,"t":119,"v":300},{"k":94,"t":120,"v":400}
]
},
"columns":5,
"spacing":{"row":110,"column":107.4},
"bounds":"flush",
"resolve":{"scale":{"x":"independent","y":"independent","color":"independent"},"axis":{"x":"independent","y":"independent"},"legend":{"color":"independent"}},
"concat":[
{"title":"tstep, spe11a","width":534,"height":545,"data":{"name":"tstep"},
 "transform":[{"lookup":"k","from":{"data":{"name":"labels"},"key":"k","fields":["lab"]}}],
 "mark":{"type":"line","strokeWidth":3},
 "encoding":{
  "x":{"field":"t","type":"quantitative","scale":{"domain":[-6,126],"nice":false,"zero":false},"axis":{"values":[0,25,50,75,100,125],"format":"d","title":"Time [h]"}},
  "y":{"field":"v","type":"quantitative","scale":{"domain":[-14.7,307.9],"nice":false,"zero":false},"axis":{"values":[0,50,100,150,200,250,300],"format":"d","title":"s"}},
  "color":{"field":"lab","type":"nominal","sort":{"field":"k","op":"min"},"scale":{"range":["#1f77b4","#ff7f0e","#2ca02c","#d62728"]},"legend":{"orient":"none","legendX":-20,"legendY":10.7,"title":null}}}},
{"title":"fsteps, spe11a","width":534,"height":545,"data":{"name":"fsteps"},
 "transform":[{"lookup":"k","from":{"data":{"name":"labels"},"key":"k","fields":["lab"]}}],
 "mark":{"type":"line","strokeWidth":3},
 "encoding":{
  "x":{"field":"t","type":"quantitative","scale":{"domain":[-6,126],"nice":false,"zero":false},"axis":{"values":[0,25,50,75,100,125],"format":"d","title":"Time [h]"}},
  "y":{"field":"v","type":"quantitative","scale":{"domain":[-146.6,3079],"nice":false,"zero":false},"axis":{"values":[0,500,1000,1500,2000,2500,3000],"format":"d","title":"#"}},
  "color":{"field":"lab","type":"nominal","sort":{"field":"k","op":"min"},"scale":{"range":["#1f77b4","#ff7f0e","#2ca02c","#d62728"]},"legend":{"orient":"none","legendX":-20,"legendY":10.7,"title":null}}}},
{"title":"mass, spe11a","width":534,"height":545,"data":{"name":"mass"},
 "transform":[{"lookup":"k","from":{"data":{"name":"labels"},"key":"k","fields":["lab"]}}],
 "mark":{"type":"line","strokeWidth":3},
 "encoding":{
  "x":{"field":"t","type":"quantitative","scale":{"domain":[-6,126],"nice":false,"zero":false},"axis":{"values":[0,25,50,75,100,125],"format":"d","title":"Time [h]"}},
  "y":{"field":"v","type":"quantitative","scale":{"domain":[-0.00023,0.004822],"nice":false,"zero":false},"axis":{"values":[0,0.001,0.002,0.003,0.004],"format":".3f","title":"kg"}},
  "color":{"field":"lab","type":"nominal","sort":{"field":"k","op":"min"},"scale":{"range":["#1f77b4","#ff7f0e","#2ca02c","#d62728"]},"legend":{"orient":"none","legendX":-20,"legendY":210.4,"title":null}}}},
{"title":{"text":"dof, spe11a","offset":-18},"width":534,"height":545,
 "layer":[
 {"data":{"name":"dof"},
  "transform":[{"lookup":"k","from":{"data":{"name":"labels"},"key":"k","fields":["lab"]}}],
  "mark":{"type":"line","strokeWidth":3},
  "encoding":{
   "x":{"field":"t","type":"quantitative","scale":{"domain":[-6,126],"nice":false,"zero":false},"axis":{"values":[0,25,50,75,100,125],"format":"d","title":"Time [h]"}},
   "y":{"field":"v","type":"quantitative","scale":{"domain":[-245126,6513196],"nice":false,"zero":false},"axis":{"values":[0,1000000,2000000,3000000,4000000,5000000,6000000],"labelExpr":"format(datum.value/1000000,'d')","title":"#"}},
   "color":{"field":"lab","type":"nominal","sort":{"field":"k","op":"min"},"scale":{"range":["#1f77b4","#ff7f0e","#2ca02c","#d62728"]},"legend":{"orient":"none","legendX":-20,"legendY":210.4,"title":null}}}},
 {"data":{"values":[{}]},
  "mark":{"type":"text","align":"left","baseline":"alphabetic","dy":-3,"font":"Liberation Serif","fontSize":25,"color":"black"},
  "encoding":{"x":{"datum":-6},"y":{"datum":6513196},"text":{"value":"×10⁶"}}}
 ]},
{"title":"nliter, spe11a","width":534,"height":545,"data":{"name":"nliter"},
 "transform":[{"lookup":"k","from":{"data":{"name":"labels"},"key":"k","fields":["lab"]}}],
 "mark":{"type":"line","strokeWidth":3},
 "encoding":{
  "x":{"field":"t","type":"quantitative","scale":{"domain":[-6,126],"nice":false,"zero":false},"axis":{"values":[0,25,50,75,100,125],"format":"d","title":"Time [h]"}},
  "y":{"field":"v","type":"quantitative","scale":{"domain":[-1073,22528],"nice":false,"zero":false},"axis":{"values":[0,5000,10000,15000,20000],"format":"d","title":"#"}},
  "color":{"field":"lab","type":"nominal","sort":{"field":"k","op":"min"},"scale":{"range":["#1f77b4","#ff7f0e","#2ca02c","#d62728"]},"legend":{"orient":"none","legendX":-20,"legendY":10.7,"title":null}}}},
{"title":"nres, spe11a","width":534,"height":545,"data":{"name":"nres"},
 "transform":[{"lookup":"k","from":{"data":{"name":"labels"},"key":"k","fields":["lab"]}}],
 "mark":{"type":"line","strokeWidth":3},
 "encoding":{
  "x":{"field":"t","type":"quantitative","scale":{"domain":[-6,126],"nice":false,"zero":false},"axis":{"values":[0,25,50,75,100,125],"format":"d","title":"Time [h]"}},
  "y":{"field":"v","type":"quantitative","scale":{"domain":[-2223,46683],"nice":false,"zero":false},"axis":{"values":[0,10000,20000,30000,40000],"format":"d","title":"#"}},
  "color":{"field":"lab","type":"nominal","sort":{"field":"k","op":"min"},"scale":{"range":["#1f77b4","#ff7f0e","#2ca02c","#d62728"]},"legend":{"orient":"none","legendX":-20,"legendY":9,"title":null}}}},
{"title":"liniter, spe11a","width":534,"height":545,"data":{"name":"liniter"},
 "transform":[{"lookup":"k","from":{"data":{"name":"labels"},"key":"k","fields":["lab"]}}],
 "mark":{"type":"line","strokeWidth":3},
 "encoding":{
  "x":{"field":"t","type":"quantitative","scale":{"domain":[-6,126],"nice":false,"zero":false},"axis":{"values":[0,25,50,75,100,125],"format":"d","title":"Time [h]"}},
  "y":{"field":"v","type":"quantitative","scale":{"domain":[-7426,155952],"nice":false,"zero":false},"axis":{"values":[0,20000,40000,60000,80000,100000,120000,140000],"format":"d","title":"#"}},
  "color":{"field":"lab","type":"nominal","sort":{"field":"k","op":"min"},"scale":{"range":["#1f77b4","#ff7f0e","#2ca02c","#d62728"]},"legend":{"orient":"none","legendX":-20,"legendY":9,"title":null}}}},
{"title":"runtime, spe11a","width":534,"height":545,"data":{"name":"runtime"},
 "transform":[{"lookup":"k","from":{"data":{"name":"labels"},"key":"k","fields":["lab"]}}],
 "mark":{"type":"line","strokeWidth":3},
 "encoding":{
  "x":{"field":"t","type":"quantitative","scale":{"domain":[-6,126],"nice":false,"zero":false},"axis":{"values":[0,25,50,75,100,125],"format":"d","title":"Time [h]"}},
  "y":{"field":"v","type":"quantitative","scale":{"domain":[-1328,27898],"nice":false,"zero":false},"axis":{"values":[0,5000,10000,15000,20000,25000],"format":"d","title":"s"}},
  "color":{"field":"lab","type":"nominal","sort":{"field":"k","op":"min"},"scale":{"range":["#1f77b4","#ff7f0e","#2ca02c","#d62728"]},"legend":{"orient":"none","legendX":-20,"legendY":9,"title":null}}}},
{"title":"tlinsol, spe11a","width":534,"height":545,"data":{"name":"tlinsol"},
 "transform":[{"lookup":"k","from":{"data":{"name":"labels"},"key":"k","fields":["lab"]}}],
 "mark":{"type":"line","strokeWidth":3},
 "encoding":{
  "x":{"field":"t","type":"quantitative","scale":{"domain":[-6,126],"nice":false,"zero":false},"axis":{"values":[0,25,50,75,100,125],"format":"d","title":"Time [h]"}},
  "y":{"field":"v","type":"quantitative","scale":{"domain":[-1051,22069],"nice":false,"zero":false},"axis":{"values":[0,5000,10000,15000,20000],"format":"d","title":"s"}},
  "color":{"field":"lab","type":"nominal","sort":{"field":"k","op":"min"},"scale":{"range":["#1f77b4","#ff7f0e","#2ca02c","#d62728"]},"legend":{"orient":"none","legendX":-20,"legendY":9,"title":null}}}}
],
"config":{
 "view":{"stroke":"black","strokeWidth":1.1,"fill":"white"},
 "axis":{"labelFont":"Liberation Serif","labelFontSize":25,"labelColor":"black","titleFont":"Liberation Mono","titleFontSize":23,"titleFontWeight":"normal","titleColor":"black","tickColor":"black","tickSize":5,"tickWidth":1.1,"domain":false,"gridColor":"#b0b0b0","gridWidth":1.1,"gridOpacity":1,"labelFlush":false,"labelOverlap":false,"labelBound":false},
 "axisX":{"labelPadding":2,"titlePadding":0},
 "axisY":{"labelPadding":5,"titlePadding":12},
 "legend":{"labelFont":"Liberation Mono","labelFontSize":17.8,"labelColor":"black","labelLimit":0,"symbolType":"stroke","symbolSize":5776,"symbolStrokeWidth":3,"fillColor":"rgba(255,255,255,0.8)","strokeColor":"#cccccc","cornerRadius":5,"padding":6,"rowPadding":8.5,"clipHeight":21,"labelOffset":14},
 "title":{"font":"Liberation Mono","fontSize":23.5,"fontWeight":"normal","color":"black","anchor":"middle","frame":"group","offset":7,"baseline":"alphabetic"}
}
}
